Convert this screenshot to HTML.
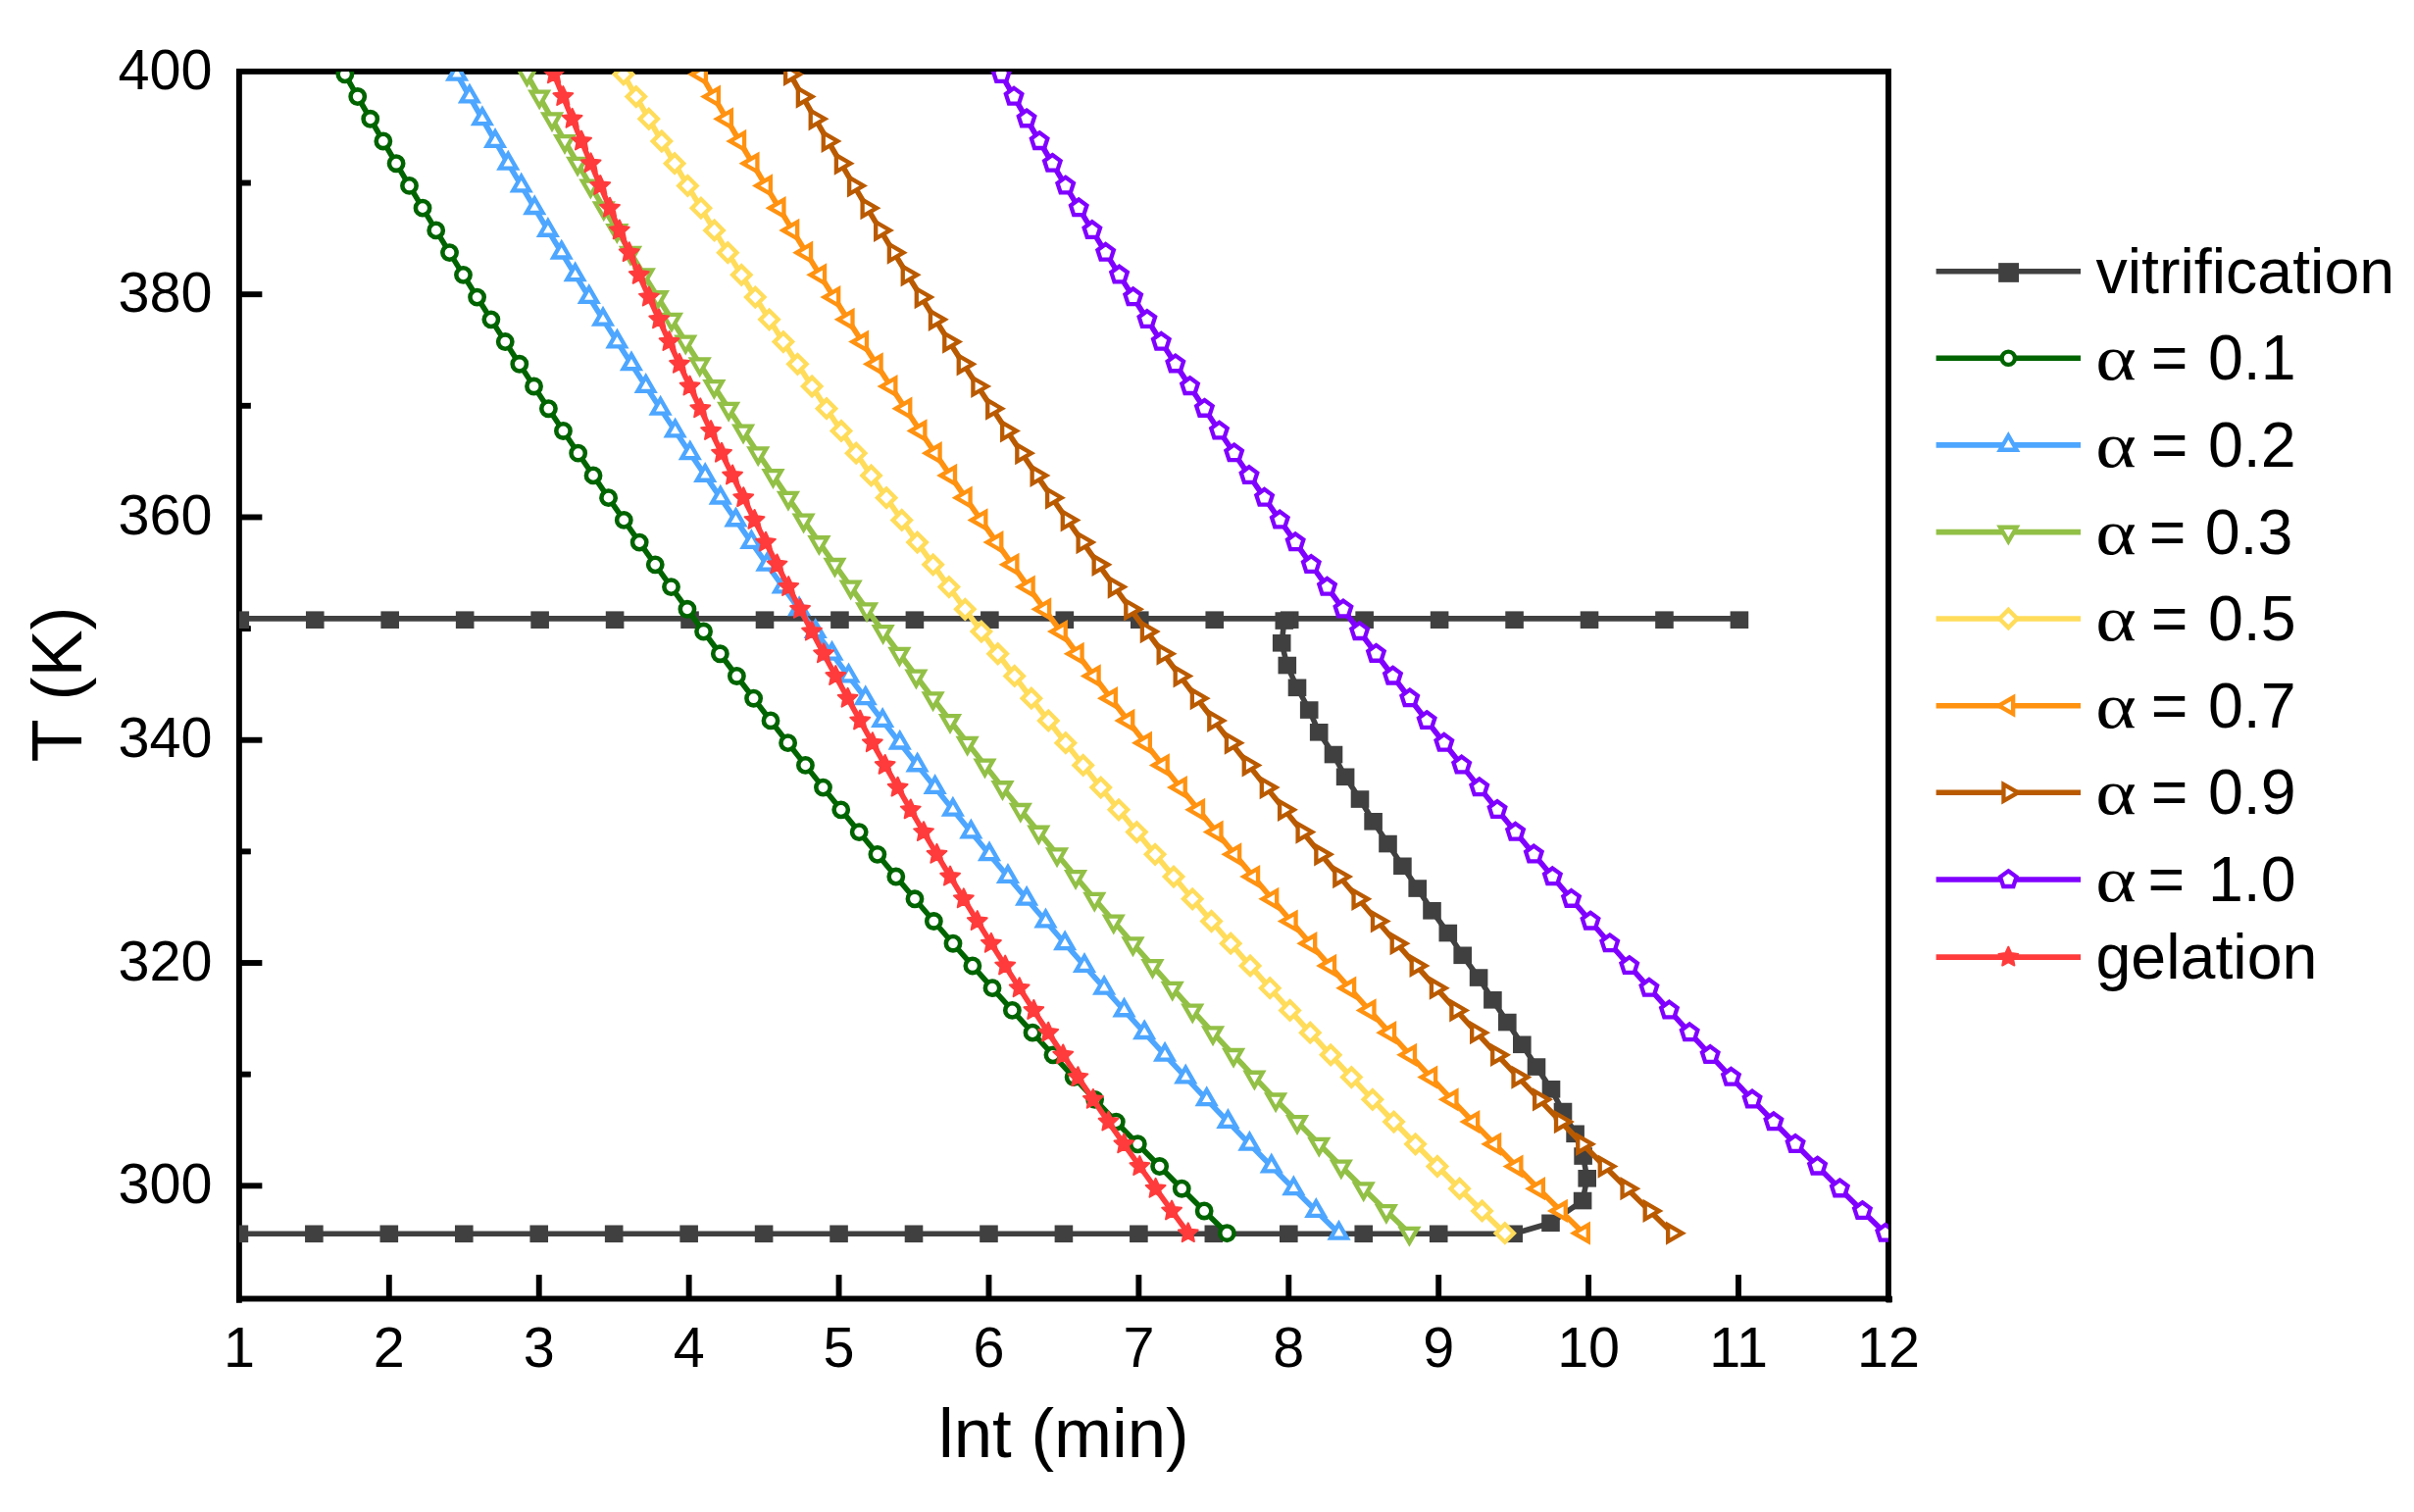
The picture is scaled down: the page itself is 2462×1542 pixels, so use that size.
<!DOCTYPE html>
<html lang="en">
<head>
<meta charset="utf-8">
<title>TTT diagram</title>
<style>html,body{margin:0;padding:0;background:#fff}svg{display:block}</style>
</head>
<body>
<svg width="2462" height="1542" viewBox="0 0 2462 1542">
<rect width="2462" height="1542" fill="#fff"/>
<defs><clipPath id="plot"><rect x="243.90" y="72.90" width="1682.05" height="1251.60"/></clipPath></defs>
<g stroke="#000" stroke-width="5.90" fill="none" stroke-linecap="butt">
<rect x="243.90" y="72.90" width="1682.05" height="1251.60" stroke-linejoin="miter"/>
<line x1="245.85" y1="1209.30" x2="267.35" y2="1209.30"/>
<line x1="245.85" y1="1095.66" x2="255.85" y2="1095.66"/>
<line x1="245.85" y1="982.02" x2="267.35" y2="982.02"/>
<line x1="245.85" y1="868.38" x2="255.85" y2="868.38"/>
<line x1="245.85" y1="754.74" x2="267.35" y2="754.74"/>
<line x1="245.85" y1="641.10" x2="255.85" y2="641.10"/>
<line x1="245.85" y1="527.46" x2="267.35" y2="527.46"/>
<line x1="245.85" y1="413.82" x2="255.85" y2="413.82"/>
<line x1="245.85" y1="300.18" x2="267.35" y2="300.18"/>
<line x1="245.85" y1="186.54" x2="255.85" y2="186.54"/>
<line x1="396.81" y1="1322.55" x2="396.81" y2="1300.05"/>
<line x1="549.73" y1="1322.55" x2="549.73" y2="1300.05"/>
<line x1="702.64" y1="1322.55" x2="702.64" y2="1300.05"/>
<line x1="855.55" y1="1322.55" x2="855.55" y2="1300.05"/>
<line x1="1008.47" y1="1322.55" x2="1008.47" y2="1300.05"/>
<line x1="1161.38" y1="1322.55" x2="1161.38" y2="1300.05"/>
<line x1="1314.30" y1="1322.55" x2="1314.30" y2="1300.05"/>
<line x1="1467.21" y1="1322.55" x2="1467.21" y2="1300.05"/>
<line x1="1620.12" y1="1322.55" x2="1620.12" y2="1300.05"/>
<line x1="1773.04" y1="1322.55" x2="1773.04" y2="1300.05"/>
</g>
<rect x="1923.2" y="1321.6" width="6.8" height="6.9" rx="1.2" fill="#000"/>
<rect x="241.0" y="1321.6" width="5.8" height="7.2" fill="#000"/>
<g clip-path="url(#plot)">
<polyline points="1773.04,630.90 1696.58,630.90 1620.12,630.90 1543.67,630.90 1467.21,630.90 1390.75,630.90 1314.30,630.90 1237.84,630.90 1161.38,630.90 1084.92,630.90 1008.47,630.90 932.01,630.90 855.55,630.90 779.10,630.90 702.64,630.90 626.18,630.90 549.73,630.90 473.27,630.90 396.81,630.90 320.36,630.90 243.90,630.90" fill="none" stroke="#404040" stroke-width="5.60" stroke-linejoin="round"/>
<rect x="1764.64" y="623.40" width="18.60" height="17.60" fill="#404040"/><rect x="1688.18" y="623.40" width="18.60" height="17.60" fill="#404040"/><rect x="1611.72" y="623.40" width="18.60" height="17.60" fill="#404040"/><rect x="1535.27" y="623.40" width="18.60" height="17.60" fill="#404040"/><rect x="1458.81" y="623.40" width="18.60" height="17.60" fill="#404040"/><rect x="1382.35" y="623.40" width="18.60" height="17.60" fill="#404040"/><rect x="1305.90" y="623.40" width="18.60" height="17.60" fill="#404040"/><rect x="1229.44" y="623.40" width="18.60" height="17.60" fill="#404040"/><rect x="1152.98" y="623.40" width="18.60" height="17.60" fill="#404040"/><rect x="1076.53" y="623.40" width="18.60" height="17.60" fill="#404040"/><rect x="1000.07" y="623.40" width="18.60" height="17.60" fill="#404040"/><rect x="923.61" y="623.40" width="18.60" height="17.60" fill="#404040"/><rect x="847.15" y="623.40" width="18.60" height="17.60" fill="#404040"/><rect x="770.70" y="623.40" width="18.60" height="17.60" fill="#404040"/><rect x="694.24" y="623.40" width="18.60" height="17.60" fill="#404040"/><rect x="617.78" y="623.40" width="18.60" height="17.60" fill="#404040"/><rect x="541.33" y="623.40" width="18.60" height="17.60" fill="#404040"/><rect x="464.87" y="623.40" width="18.60" height="17.60" fill="#404040"/><rect x="388.41" y="623.40" width="18.60" height="17.60" fill="#404040"/><rect x="311.96" y="623.40" width="18.60" height="17.60" fill="#404040"/><rect x="235.50" y="623.40" width="18.60" height="17.60" fill="#404040"/>
<polyline points="243.90,1258.30 320.36,1258.30 396.81,1258.30 473.27,1258.30 549.73,1258.30 626.18,1258.30 702.64,1258.30 779.10,1258.30 855.55,1258.30 932.01,1258.30 1008.47,1258.30 1084.92,1258.30 1161.38,1258.30 1237.84,1258.30 1314.30,1258.30 1390.75,1258.30 1467.21,1258.30 1543.67,1258.30 1581.50,1247.30 1614.10,1224.55 1618.70,1201.80 1614.60,1179.05 1606.60,1156.30 1594.00,1133.55 1582.00,1110.80 1567.00,1088.05 1552.30,1065.30 1537.30,1042.55 1522.40,1019.80 1508.10,997.05 1491.70,974.30 1476.80,951.55 1460.50,928.80 1445.70,906.05 1430.40,883.30 1415.50,860.55 1400.60,837.80 1387.00,815.05 1372.10,792.30 1360.00,769.55 1345.20,746.80 1335.20,724.05 1323.00,701.30 1312.80,678.55 1307.20,655.80 1309.80,633.05 1314.30,630.90" fill="none" stroke="#404040" stroke-width="5.60" stroke-linejoin="round"/>
<rect x="234.60" y="1249.50" width="18.60" height="17.60" fill="#404040"/><rect x="311.06" y="1249.50" width="18.60" height="17.60" fill="#404040"/><rect x="387.51" y="1249.50" width="18.60" height="17.60" fill="#404040"/><rect x="463.97" y="1249.50" width="18.60" height="17.60" fill="#404040"/><rect x="540.43" y="1249.50" width="18.60" height="17.60" fill="#404040"/><rect x="616.88" y="1249.50" width="18.60" height="17.60" fill="#404040"/><rect x="693.34" y="1249.50" width="18.60" height="17.60" fill="#404040"/><rect x="769.80" y="1249.50" width="18.60" height="17.60" fill="#404040"/><rect x="846.25" y="1249.50" width="18.60" height="17.60" fill="#404040"/><rect x="922.71" y="1249.50" width="18.60" height="17.60" fill="#404040"/><rect x="999.17" y="1249.50" width="18.60" height="17.60" fill="#404040"/><rect x="1075.62" y="1249.50" width="18.60" height="17.60" fill="#404040"/><rect x="1152.08" y="1249.50" width="18.60" height="17.60" fill="#404040"/><rect x="1228.54" y="1249.50" width="18.60" height="17.60" fill="#404040"/><rect x="1305.00" y="1249.50" width="18.60" height="17.60" fill="#404040"/><rect x="1381.45" y="1249.50" width="18.60" height="17.60" fill="#404040"/><rect x="1457.91" y="1249.50" width="18.60" height="17.60" fill="#404040"/><rect x="1534.37" y="1249.50" width="18.60" height="17.60" fill="#404040"/><rect x="1572.20" y="1238.50" width="18.60" height="17.60" fill="#404040"/><rect x="1604.80" y="1215.75" width="18.60" height="17.60" fill="#404040"/><rect x="1609.40" y="1193.00" width="18.60" height="17.60" fill="#404040"/><rect x="1605.30" y="1170.25" width="18.60" height="17.60" fill="#404040"/><rect x="1597.30" y="1147.50" width="18.60" height="17.60" fill="#404040"/><rect x="1584.70" y="1124.75" width="18.60" height="17.60" fill="#404040"/><rect x="1572.70" y="1102.00" width="18.60" height="17.60" fill="#404040"/><rect x="1557.70" y="1079.25" width="18.60" height="17.60" fill="#404040"/><rect x="1543.00" y="1056.50" width="18.60" height="17.60" fill="#404040"/><rect x="1528.00" y="1033.75" width="18.60" height="17.60" fill="#404040"/><rect x="1513.10" y="1011.00" width="18.60" height="17.60" fill="#404040"/><rect x="1498.80" y="988.25" width="18.60" height="17.60" fill="#404040"/><rect x="1482.40" y="965.50" width="18.60" height="17.60" fill="#404040"/><rect x="1467.50" y="942.75" width="18.60" height="17.60" fill="#404040"/><rect x="1451.20" y="920.00" width="18.60" height="17.60" fill="#404040"/><rect x="1436.40" y="897.25" width="18.60" height="17.60" fill="#404040"/><rect x="1421.10" y="874.50" width="18.60" height="17.60" fill="#404040"/><rect x="1406.20" y="851.75" width="18.60" height="17.60" fill="#404040"/><rect x="1391.30" y="829.00" width="18.60" height="17.60" fill="#404040"/><rect x="1377.70" y="806.25" width="18.60" height="17.60" fill="#404040"/><rect x="1362.80" y="783.50" width="18.60" height="17.60" fill="#404040"/><rect x="1350.70" y="760.75" width="18.60" height="17.60" fill="#404040"/><rect x="1335.90" y="738.00" width="18.60" height="17.60" fill="#404040"/><rect x="1325.90" y="715.25" width="18.60" height="17.60" fill="#404040"/><rect x="1313.70" y="692.50" width="18.60" height="17.60" fill="#404040"/><rect x="1303.50" y="669.75" width="18.60" height="17.60" fill="#404040"/><rect x="1297.90" y="647.00" width="18.60" height="17.60" fill="#404040"/><rect x="1300.50" y="624.25" width="18.60" height="17.60" fill="#404040"/>
<polyline points="351.86,75.80 364.73,98.53 377.72,121.26 390.84,143.99 404.10,166.72 417.50,189.44 431.03,212.17 444.70,234.90 458.52,257.63 472.48,280.36 486.58,303.09 500.84,325.82 515.25,348.55 529.81,371.28 544.53,394.00 559.41,416.73 574.45,439.46 589.66,462.19 605.03,484.92 620.57,507.65 636.29,530.38 652.18,553.11 668.25,575.83 684.50,598.56 700.93,621.29 717.56,644.02 734.37,666.75 751.38,689.48 768.59,712.21 786.00,734.94 803.61,757.67 821.44,780.39 839.47,803.12 857.72,825.85 876.19,848.58 894.89,871.31 913.81,894.04 932.97,916.77 952.36,939.50 972.00,962.23 991.87,984.95 1012.00,1007.68 1032.39,1030.41 1053.03,1053.14 1073.94,1075.87 1095.12,1098.60 1116.58,1121.33 1138.31,1144.06 1160.33,1166.78 1182.65,1189.51 1205.26,1212.24 1228.17,1234.97 1251.40,1257.70" fill="none" stroke="#006400" stroke-width="5.60" stroke-linejoin="round"/>
<circle cx="351.86" cy="75.80" r="7.15" fill="#fff" stroke="#006400" stroke-width="4.56"/><circle cx="364.73" cy="98.53" r="7.15" fill="#fff" stroke="#006400" stroke-width="4.56"/><circle cx="377.72" cy="121.26" r="7.15" fill="#fff" stroke="#006400" stroke-width="4.56"/><circle cx="390.84" cy="143.99" r="7.15" fill="#fff" stroke="#006400" stroke-width="4.56"/><circle cx="404.10" cy="166.72" r="7.15" fill="#fff" stroke="#006400" stroke-width="4.56"/><circle cx="417.50" cy="189.44" r="7.15" fill="#fff" stroke="#006400" stroke-width="4.56"/><circle cx="431.03" cy="212.17" r="7.15" fill="#fff" stroke="#006400" stroke-width="4.56"/><circle cx="444.70" cy="234.90" r="7.15" fill="#fff" stroke="#006400" stroke-width="4.56"/><circle cx="458.52" cy="257.63" r="7.15" fill="#fff" stroke="#006400" stroke-width="4.56"/><circle cx="472.48" cy="280.36" r="7.15" fill="#fff" stroke="#006400" stroke-width="4.56"/><circle cx="486.58" cy="303.09" r="7.15" fill="#fff" stroke="#006400" stroke-width="4.56"/><circle cx="500.84" cy="325.82" r="7.15" fill="#fff" stroke="#006400" stroke-width="4.56"/><circle cx="515.25" cy="348.55" r="7.15" fill="#fff" stroke="#006400" stroke-width="4.56"/><circle cx="529.81" cy="371.28" r="7.15" fill="#fff" stroke="#006400" stroke-width="4.56"/><circle cx="544.53" cy="394.00" r="7.15" fill="#fff" stroke="#006400" stroke-width="4.56"/><circle cx="559.41" cy="416.73" r="7.15" fill="#fff" stroke="#006400" stroke-width="4.56"/><circle cx="574.45" cy="439.46" r="7.15" fill="#fff" stroke="#006400" stroke-width="4.56"/><circle cx="589.66" cy="462.19" r="7.15" fill="#fff" stroke="#006400" stroke-width="4.56"/><circle cx="605.03" cy="484.92" r="7.15" fill="#fff" stroke="#006400" stroke-width="4.56"/><circle cx="620.57" cy="507.65" r="7.15" fill="#fff" stroke="#006400" stroke-width="4.56"/><circle cx="636.29" cy="530.38" r="7.15" fill="#fff" stroke="#006400" stroke-width="4.56"/><circle cx="652.18" cy="553.11" r="7.15" fill="#fff" stroke="#006400" stroke-width="4.56"/><circle cx="668.25" cy="575.83" r="7.15" fill="#fff" stroke="#006400" stroke-width="4.56"/><circle cx="684.50" cy="598.56" r="7.15" fill="#fff" stroke="#006400" stroke-width="4.56"/><circle cx="700.93" cy="621.29" r="7.15" fill="#fff" stroke="#006400" stroke-width="4.56"/><circle cx="717.56" cy="644.02" r="7.15" fill="#fff" stroke="#006400" stroke-width="4.56"/><circle cx="734.37" cy="666.75" r="7.15" fill="#fff" stroke="#006400" stroke-width="4.56"/><circle cx="751.38" cy="689.48" r="7.15" fill="#fff" stroke="#006400" stroke-width="4.56"/><circle cx="768.59" cy="712.21" r="7.15" fill="#fff" stroke="#006400" stroke-width="4.56"/><circle cx="786.00" cy="734.94" r="7.15" fill="#fff" stroke="#006400" stroke-width="4.56"/><circle cx="803.61" cy="757.67" r="7.15" fill="#fff" stroke="#006400" stroke-width="4.56"/><circle cx="821.44" cy="780.39" r="7.15" fill="#fff" stroke="#006400" stroke-width="4.56"/><circle cx="839.47" cy="803.12" r="7.15" fill="#fff" stroke="#006400" stroke-width="4.56"/><circle cx="857.72" cy="825.85" r="7.15" fill="#fff" stroke="#006400" stroke-width="4.56"/><circle cx="876.19" cy="848.58" r="7.15" fill="#fff" stroke="#006400" stroke-width="4.56"/><circle cx="894.89" cy="871.31" r="7.15" fill="#fff" stroke="#006400" stroke-width="4.56"/><circle cx="913.81" cy="894.04" r="7.15" fill="#fff" stroke="#006400" stroke-width="4.56"/><circle cx="932.97" cy="916.77" r="7.15" fill="#fff" stroke="#006400" stroke-width="4.56"/><circle cx="952.36" cy="939.50" r="7.15" fill="#fff" stroke="#006400" stroke-width="4.56"/><circle cx="972.00" cy="962.23" r="7.15" fill="#fff" stroke="#006400" stroke-width="4.56"/><circle cx="991.87" cy="984.95" r="7.15" fill="#fff" stroke="#006400" stroke-width="4.56"/><circle cx="1012.00" cy="1007.68" r="7.15" fill="#fff" stroke="#006400" stroke-width="4.56"/><circle cx="1032.39" cy="1030.41" r="7.15" fill="#fff" stroke="#006400" stroke-width="4.56"/><circle cx="1053.03" cy="1053.14" r="7.15" fill="#fff" stroke="#006400" stroke-width="4.56"/><circle cx="1073.94" cy="1075.87" r="7.15" fill="#fff" stroke="#006400" stroke-width="4.56"/><circle cx="1095.12" cy="1098.60" r="7.15" fill="#fff" stroke="#006400" stroke-width="4.56"/><circle cx="1116.58" cy="1121.33" r="7.15" fill="#fff" stroke="#006400" stroke-width="4.56"/><circle cx="1138.31" cy="1144.06" r="7.15" fill="#fff" stroke="#006400" stroke-width="4.56"/><circle cx="1160.33" cy="1166.78" r="7.15" fill="#fff" stroke="#006400" stroke-width="4.56"/><circle cx="1182.65" cy="1189.51" r="7.15" fill="#fff" stroke="#006400" stroke-width="4.56"/><circle cx="1205.26" cy="1212.24" r="7.15" fill="#fff" stroke="#006400" stroke-width="4.56"/><circle cx="1228.17" cy="1234.97" r="7.15" fill="#fff" stroke="#006400" stroke-width="4.56"/><circle cx="1251.40" cy="1257.70" r="7.15" fill="#fff" stroke="#006400" stroke-width="4.56"/>
<polyline points="466.06,75.80 478.92,98.53 491.91,121.26 505.04,143.99 518.29,166.72 531.69,189.44 545.22,212.17 558.89,234.90 572.70,257.63 586.66,280.36 600.77,303.09 615.02,325.82 629.43,348.55 643.99,371.28 658.71,394.00 673.59,416.73 688.63,439.46 703.83,462.19 719.20,484.92 734.74,507.65 750.45,530.38 766.34,553.11 782.41,575.83 798.66,598.56 815.09,621.29 831.72,644.02 848.53,666.75 865.54,689.48 882.74,712.21 900.15,734.94 917.76,757.67 935.58,780.39 953.62,803.12 971.87,825.85 990.34,848.58 1009.03,871.31 1027.95,894.04 1047.10,916.77 1066.49,939.50 1086.13,962.23 1106.00,984.95 1126.13,1007.68 1146.51,1030.41 1167.16,1053.14 1188.06,1075.87 1209.24,1098.60 1230.69,1121.33 1252.43,1144.06 1274.44,1166.78 1296.76,1189.51 1319.36,1212.24 1342.28,1234.97 1365.50,1257.70" fill="none" stroke="#4DA6FF" stroke-width="5.60" stroke-linejoin="round"/>
<polygon points="466.06,66.10 474.46,80.65 457.66,80.65" fill="#fff" stroke="#4DA6FF" stroke-width="4.30" stroke-linejoin="miter"/><polygon points="478.92,88.83 487.32,103.38 470.52,103.38" fill="#fff" stroke="#4DA6FF" stroke-width="4.30" stroke-linejoin="miter"/><polygon points="491.91,111.56 500.32,126.11 483.51,126.11" fill="#fff" stroke="#4DA6FF" stroke-width="4.30" stroke-linejoin="miter"/><polygon points="505.04,134.29 513.44,148.84 496.64,148.84" fill="#fff" stroke="#4DA6FF" stroke-width="4.30" stroke-linejoin="miter"/><polygon points="518.29,157.02 526.70,171.57 509.89,171.57" fill="#fff" stroke="#4DA6FF" stroke-width="4.30" stroke-linejoin="miter"/><polygon points="531.69,179.74 540.09,194.29 523.29,194.29" fill="#fff" stroke="#4DA6FF" stroke-width="4.30" stroke-linejoin="miter"/><polygon points="545.22,202.47 553.62,217.02 536.82,217.02" fill="#fff" stroke="#4DA6FF" stroke-width="4.30" stroke-linejoin="miter"/><polygon points="558.89,225.20 567.29,239.75 550.49,239.75" fill="#fff" stroke="#4DA6FF" stroke-width="4.30" stroke-linejoin="miter"/><polygon points="572.70,247.93 581.11,262.48 564.30,262.48" fill="#fff" stroke="#4DA6FF" stroke-width="4.30" stroke-linejoin="miter"/><polygon points="586.66,270.66 595.06,285.21 578.26,285.21" fill="#fff" stroke="#4DA6FF" stroke-width="4.30" stroke-linejoin="miter"/><polygon points="600.77,293.39 609.17,307.94 592.37,307.94" fill="#fff" stroke="#4DA6FF" stroke-width="4.30" stroke-linejoin="miter"/><polygon points="615.02,316.12 623.42,330.67 606.62,330.67" fill="#fff" stroke="#4DA6FF" stroke-width="4.30" stroke-linejoin="miter"/><polygon points="629.43,338.85 637.83,353.40 621.03,353.40" fill="#fff" stroke="#4DA6FF" stroke-width="4.30" stroke-linejoin="miter"/><polygon points="643.99,361.58 652.39,376.13 635.59,376.13" fill="#fff" stroke="#4DA6FF" stroke-width="4.30" stroke-linejoin="miter"/><polygon points="658.71,384.30 667.11,398.85 650.31,398.85" fill="#fff" stroke="#4DA6FF" stroke-width="4.30" stroke-linejoin="miter"/><polygon points="673.59,407.03 681.99,421.58 665.19,421.58" fill="#fff" stroke="#4DA6FF" stroke-width="4.30" stroke-linejoin="miter"/><polygon points="688.63,429.76 697.03,444.31 680.23,444.31" fill="#fff" stroke="#4DA6FF" stroke-width="4.30" stroke-linejoin="miter"/><polygon points="703.83,452.49 712.23,467.04 695.43,467.04" fill="#fff" stroke="#4DA6FF" stroke-width="4.30" stroke-linejoin="miter"/><polygon points="719.20,475.22 727.60,489.77 710.80,489.77" fill="#fff" stroke="#4DA6FF" stroke-width="4.30" stroke-linejoin="miter"/><polygon points="734.74,497.95 743.14,512.50 726.34,512.50" fill="#fff" stroke="#4DA6FF" stroke-width="4.30" stroke-linejoin="miter"/><polygon points="750.45,520.68 758.85,535.23 742.05,535.23" fill="#fff" stroke="#4DA6FF" stroke-width="4.30" stroke-linejoin="miter"/><polygon points="766.34,543.41 774.74,557.96 757.94,557.96" fill="#fff" stroke="#4DA6FF" stroke-width="4.30" stroke-linejoin="miter"/><polygon points="782.41,566.13 790.81,580.68 774.01,580.68" fill="#fff" stroke="#4DA6FF" stroke-width="4.30" stroke-linejoin="miter"/><polygon points="798.66,588.86 807.06,603.41 790.26,603.41" fill="#fff" stroke="#4DA6FF" stroke-width="4.30" stroke-linejoin="miter"/><polygon points="815.09,611.59 823.49,626.14 806.69,626.14" fill="#fff" stroke="#4DA6FF" stroke-width="4.30" stroke-linejoin="miter"/><polygon points="831.72,634.32 840.12,648.87 823.32,648.87" fill="#fff" stroke="#4DA6FF" stroke-width="4.30" stroke-linejoin="miter"/><polygon points="848.53,657.05 856.93,671.60 840.13,671.60" fill="#fff" stroke="#4DA6FF" stroke-width="4.30" stroke-linejoin="miter"/><polygon points="865.54,679.78 873.94,694.33 857.14,694.33" fill="#fff" stroke="#4DA6FF" stroke-width="4.30" stroke-linejoin="miter"/><polygon points="882.74,702.51 891.14,717.06 874.34,717.06" fill="#fff" stroke="#4DA6FF" stroke-width="4.30" stroke-linejoin="miter"/><polygon points="900.15,725.24 908.55,739.79 891.75,739.79" fill="#fff" stroke="#4DA6FF" stroke-width="4.30" stroke-linejoin="miter"/><polygon points="917.76,747.97 926.16,762.52 909.36,762.52" fill="#fff" stroke="#4DA6FF" stroke-width="4.30" stroke-linejoin="miter"/><polygon points="935.58,770.69 943.98,785.24 927.18,785.24" fill="#fff" stroke="#4DA6FF" stroke-width="4.30" stroke-linejoin="miter"/><polygon points="953.62,793.42 962.02,807.97 945.22,807.97" fill="#fff" stroke="#4DA6FF" stroke-width="4.30" stroke-linejoin="miter"/><polygon points="971.87,816.15 980.27,830.70 963.47,830.70" fill="#fff" stroke="#4DA6FF" stroke-width="4.30" stroke-linejoin="miter"/><polygon points="990.34,838.88 998.74,853.43 981.93,853.43" fill="#fff" stroke="#4DA6FF" stroke-width="4.30" stroke-linejoin="miter"/><polygon points="1009.03,861.61 1017.43,876.16 1000.63,876.16" fill="#fff" stroke="#4DA6FF" stroke-width="4.30" stroke-linejoin="miter"/><polygon points="1027.95,884.34 1036.35,898.89 1019.55,898.89" fill="#fff" stroke="#4DA6FF" stroke-width="4.30" stroke-linejoin="miter"/><polygon points="1047.10,907.07 1055.50,921.62 1038.70,921.62" fill="#fff" stroke="#4DA6FF" stroke-width="4.30" stroke-linejoin="miter"/><polygon points="1066.49,929.80 1074.89,944.35 1058.09,944.35" fill="#fff" stroke="#4DA6FF" stroke-width="4.30" stroke-linejoin="miter"/><polygon points="1086.13,952.52 1094.53,967.08 1077.73,967.08" fill="#fff" stroke="#4DA6FF" stroke-width="4.30" stroke-linejoin="miter"/><polygon points="1106.00,975.25 1114.40,989.80 1097.60,989.80" fill="#fff" stroke="#4DA6FF" stroke-width="4.30" stroke-linejoin="miter"/><polygon points="1126.13,997.98 1134.53,1012.53 1117.73,1012.53" fill="#fff" stroke="#4DA6FF" stroke-width="4.30" stroke-linejoin="miter"/><polygon points="1146.51,1020.71 1154.91,1035.26 1138.11,1035.26" fill="#fff" stroke="#4DA6FF" stroke-width="4.30" stroke-linejoin="miter"/><polygon points="1167.16,1043.44 1175.56,1057.99 1158.75,1057.99" fill="#fff" stroke="#4DA6FF" stroke-width="4.30" stroke-linejoin="miter"/><polygon points="1188.06,1066.17 1196.46,1080.72 1179.66,1080.72" fill="#fff" stroke="#4DA6FF" stroke-width="4.30" stroke-linejoin="miter"/><polygon points="1209.24,1088.90 1217.64,1103.45 1200.84,1103.45" fill="#fff" stroke="#4DA6FF" stroke-width="4.30" stroke-linejoin="miter"/><polygon points="1230.69,1111.63 1239.09,1126.18 1222.29,1126.18" fill="#fff" stroke="#4DA6FF" stroke-width="4.30" stroke-linejoin="miter"/><polygon points="1252.43,1134.36 1260.83,1148.91 1244.02,1148.91" fill="#fff" stroke="#4DA6FF" stroke-width="4.30" stroke-linejoin="miter"/><polygon points="1274.44,1157.08 1282.84,1171.63 1266.04,1171.63" fill="#fff" stroke="#4DA6FF" stroke-width="4.30" stroke-linejoin="miter"/><polygon points="1296.76,1179.81 1305.16,1194.36 1288.36,1194.36" fill="#fff" stroke="#4DA6FF" stroke-width="4.30" stroke-linejoin="miter"/><polygon points="1319.36,1202.54 1327.77,1217.09 1310.96,1217.09" fill="#fff" stroke="#4DA6FF" stroke-width="4.30" stroke-linejoin="miter"/><polygon points="1342.28,1225.27 1350.68,1239.82 1333.88,1239.82" fill="#fff" stroke="#4DA6FF" stroke-width="4.30" stroke-linejoin="miter"/><polygon points="1365.50,1248.00 1373.90,1262.55 1357.10,1262.55" fill="#fff" stroke="#4DA6FF" stroke-width="4.30" stroke-linejoin="miter"/>
<polyline points="537.45,75.80 550.16,98.53 563.00,121.26 575.98,143.99 589.10,166.72 602.35,189.44 615.75,212.17 629.29,234.90 642.98,257.63 656.82,280.36 670.81,303.09 684.95,325.82 699.25,348.55 713.71,371.28 728.32,394.00 743.11,416.73 758.06,439.46 773.18,462.19 788.47,484.92 803.94,507.65 819.59,530.38 835.42,553.11 851.43,575.83 867.63,598.56 884.03,621.29 900.62,644.02 917.40,666.75 934.39,689.48 951.59,712.21 969.00,734.94 986.61,757.67 1004.45,780.39 1022.51,803.12 1040.79,825.85 1059.31,848.58 1078.05,871.31 1097.04,894.04 1116.27,916.77 1135.74,939.50 1155.47,962.23 1175.46,984.95 1195.71,1007.68 1216.23,1030.41 1237.02,1053.14 1258.09,1075.87 1279.45,1098.60 1301.09,1121.33 1323.03,1144.06 1345.28,1166.78 1367.83,1189.51 1390.69,1212.24 1413.88,1234.97 1437.40,1257.70" fill="none" stroke="#92C046" stroke-width="5.60" stroke-linejoin="round"/>
<polygon points="537.45,85.50 529.05,70.95 545.85,70.95" fill="#fff" stroke="#92C046" stroke-width="4.30" stroke-linejoin="miter"/><polygon points="550.16,108.23 541.76,93.68 558.56,93.68" fill="#fff" stroke="#92C046" stroke-width="4.30" stroke-linejoin="miter"/><polygon points="563.00,130.96 554.60,116.41 571.40,116.41" fill="#fff" stroke="#92C046" stroke-width="4.30" stroke-linejoin="miter"/><polygon points="575.98,153.69 567.58,139.14 584.38,139.14" fill="#fff" stroke="#92C046" stroke-width="4.30" stroke-linejoin="miter"/><polygon points="589.10,176.42 580.70,161.87 597.50,161.87" fill="#fff" stroke="#92C046" stroke-width="4.30" stroke-linejoin="miter"/><polygon points="602.35,199.14 593.95,184.59 610.75,184.59" fill="#fff" stroke="#92C046" stroke-width="4.30" stroke-linejoin="miter"/><polygon points="615.75,221.87 607.35,207.32 624.15,207.32" fill="#fff" stroke="#92C046" stroke-width="4.30" stroke-linejoin="miter"/><polygon points="629.29,244.60 620.89,230.05 637.69,230.05" fill="#fff" stroke="#92C046" stroke-width="4.30" stroke-linejoin="miter"/><polygon points="642.98,267.33 634.58,252.78 651.38,252.78" fill="#fff" stroke="#92C046" stroke-width="4.30" stroke-linejoin="miter"/><polygon points="656.82,290.06 648.42,275.51 665.22,275.51" fill="#fff" stroke="#92C046" stroke-width="4.30" stroke-linejoin="miter"/><polygon points="670.81,312.79 662.41,298.24 679.21,298.24" fill="#fff" stroke="#92C046" stroke-width="4.30" stroke-linejoin="miter"/><polygon points="684.95,335.52 676.55,320.97 693.35,320.97" fill="#fff" stroke="#92C046" stroke-width="4.30" stroke-linejoin="miter"/><polygon points="699.25,358.25 690.85,343.70 707.65,343.70" fill="#fff" stroke="#92C046" stroke-width="4.30" stroke-linejoin="miter"/><polygon points="713.71,380.98 705.31,366.43 722.11,366.43" fill="#fff" stroke="#92C046" stroke-width="4.30" stroke-linejoin="miter"/><polygon points="728.32,403.70 719.92,389.15 736.73,389.15" fill="#fff" stroke="#92C046" stroke-width="4.30" stroke-linejoin="miter"/><polygon points="743.11,426.43 734.71,411.88 751.51,411.88" fill="#fff" stroke="#92C046" stroke-width="4.30" stroke-linejoin="miter"/><polygon points="758.06,449.16 749.66,434.61 766.46,434.61" fill="#fff" stroke="#92C046" stroke-width="4.30" stroke-linejoin="miter"/><polygon points="773.18,471.89 764.78,457.34 781.58,457.34" fill="#fff" stroke="#92C046" stroke-width="4.30" stroke-linejoin="miter"/><polygon points="788.47,494.62 780.07,480.07 796.87,480.07" fill="#fff" stroke="#92C046" stroke-width="4.30" stroke-linejoin="miter"/><polygon points="803.94,517.35 795.54,502.80 812.34,502.80" fill="#fff" stroke="#92C046" stroke-width="4.30" stroke-linejoin="miter"/><polygon points="819.59,540.08 811.19,525.53 827.99,525.53" fill="#fff" stroke="#92C046" stroke-width="4.30" stroke-linejoin="miter"/><polygon points="835.42,562.81 827.02,548.26 843.82,548.26" fill="#fff" stroke="#92C046" stroke-width="4.30" stroke-linejoin="miter"/><polygon points="851.43,585.53 843.03,570.98 859.83,570.98" fill="#fff" stroke="#92C046" stroke-width="4.30" stroke-linejoin="miter"/><polygon points="867.63,608.26 859.23,593.71 876.03,593.71" fill="#fff" stroke="#92C046" stroke-width="4.30" stroke-linejoin="miter"/><polygon points="884.03,630.99 875.63,616.44 892.43,616.44" fill="#fff" stroke="#92C046" stroke-width="4.30" stroke-linejoin="miter"/><polygon points="900.62,653.72 892.22,639.17 909.02,639.17" fill="#fff" stroke="#92C046" stroke-width="4.30" stroke-linejoin="miter"/><polygon points="917.40,676.45 909.00,661.90 925.80,661.90" fill="#fff" stroke="#92C046" stroke-width="4.30" stroke-linejoin="miter"/><polygon points="934.39,699.18 925.99,684.63 942.79,684.63" fill="#fff" stroke="#92C046" stroke-width="4.30" stroke-linejoin="miter"/><polygon points="951.59,721.91 943.19,707.36 959.99,707.36" fill="#fff" stroke="#92C046" stroke-width="4.30" stroke-linejoin="miter"/><polygon points="969.00,744.64 960.60,730.09 977.40,730.09" fill="#fff" stroke="#92C046" stroke-width="4.30" stroke-linejoin="miter"/><polygon points="986.61,767.37 978.21,752.82 995.02,752.82" fill="#fff" stroke="#92C046" stroke-width="4.30" stroke-linejoin="miter"/><polygon points="1004.45,790.09 996.05,775.54 1012.85,775.54" fill="#fff" stroke="#92C046" stroke-width="4.30" stroke-linejoin="miter"/><polygon points="1022.51,812.82 1014.11,798.27 1030.91,798.27" fill="#fff" stroke="#92C046" stroke-width="4.30" stroke-linejoin="miter"/><polygon points="1040.79,835.55 1032.39,821.00 1049.19,821.00" fill="#fff" stroke="#92C046" stroke-width="4.30" stroke-linejoin="miter"/><polygon points="1059.31,858.28 1050.90,843.73 1067.71,843.73" fill="#fff" stroke="#92C046" stroke-width="4.30" stroke-linejoin="miter"/><polygon points="1078.05,881.01 1069.65,866.46 1086.45,866.46" fill="#fff" stroke="#92C046" stroke-width="4.30" stroke-linejoin="miter"/><polygon points="1097.04,903.74 1088.64,889.19 1105.44,889.19" fill="#fff" stroke="#92C046" stroke-width="4.30" stroke-linejoin="miter"/><polygon points="1116.27,926.47 1107.87,911.92 1124.67,911.92" fill="#fff" stroke="#92C046" stroke-width="4.30" stroke-linejoin="miter"/><polygon points="1135.74,949.20 1127.34,934.65 1144.15,934.65" fill="#fff" stroke="#92C046" stroke-width="4.30" stroke-linejoin="miter"/><polygon points="1155.47,971.93 1147.07,957.38 1163.88,957.38" fill="#fff" stroke="#92C046" stroke-width="4.30" stroke-linejoin="miter"/><polygon points="1175.46,994.65 1167.06,980.10 1183.86,980.10" fill="#fff" stroke="#92C046" stroke-width="4.30" stroke-linejoin="miter"/><polygon points="1195.71,1017.38 1187.31,1002.83 1204.11,1002.83" fill="#fff" stroke="#92C046" stroke-width="4.30" stroke-linejoin="miter"/><polygon points="1216.23,1040.11 1207.83,1025.56 1224.63,1025.56" fill="#fff" stroke="#92C046" stroke-width="4.30" stroke-linejoin="miter"/><polygon points="1237.02,1062.84 1228.62,1048.29 1245.42,1048.29" fill="#fff" stroke="#92C046" stroke-width="4.30" stroke-linejoin="miter"/><polygon points="1258.09,1085.57 1249.69,1071.02 1266.49,1071.02" fill="#fff" stroke="#92C046" stroke-width="4.30" stroke-linejoin="miter"/><polygon points="1279.45,1108.30 1271.05,1093.75 1287.85,1093.75" fill="#fff" stroke="#92C046" stroke-width="4.30" stroke-linejoin="miter"/><polygon points="1301.09,1131.03 1292.69,1116.48 1309.49,1116.48" fill="#fff" stroke="#92C046" stroke-width="4.30" stroke-linejoin="miter"/><polygon points="1323.03,1153.76 1314.63,1139.21 1331.43,1139.21" fill="#fff" stroke="#92C046" stroke-width="4.30" stroke-linejoin="miter"/><polygon points="1345.28,1176.48 1336.88,1161.93 1353.68,1161.93" fill="#fff" stroke="#92C046" stroke-width="4.30" stroke-linejoin="miter"/><polygon points="1367.83,1199.21 1359.43,1184.66 1376.23,1184.66" fill="#fff" stroke="#92C046" stroke-width="4.30" stroke-linejoin="miter"/><polygon points="1390.69,1221.94 1382.29,1207.39 1399.10,1207.39" fill="#fff" stroke="#92C046" stroke-width="4.30" stroke-linejoin="miter"/><polygon points="1413.88,1244.67 1405.48,1230.12 1422.28,1230.12" fill="#fff" stroke="#92C046" stroke-width="4.30" stroke-linejoin="miter"/><polygon points="1437.40,1267.40 1429.00,1252.85 1445.80,1252.85" fill="#fff" stroke="#92C046" stroke-width="4.30" stroke-linejoin="miter"/>
<polyline points="635.96,75.80 648.78,98.53 661.74,121.26 674.83,143.99 688.05,166.72 701.41,189.44 714.90,212.17 728.54,234.90 742.32,257.63 756.25,280.36 770.32,303.09 784.55,325.82 798.92,348.55 813.45,371.28 828.14,394.00 842.99,416.73 858.00,439.46 873.18,462.19 888.53,484.92 904.04,507.65 919.73,530.38 935.60,553.11 951.64,575.83 967.87,598.56 984.29,621.29 1000.89,644.02 1017.69,666.75 1034.68,689.48 1051.87,712.21 1069.26,734.94 1086.86,757.67 1104.67,780.39 1122.69,803.12 1140.94,825.85 1159.40,848.58 1178.09,871.31 1197.01,894.04 1216.16,916.77 1235.55,939.50 1255.18,962.23 1275.07,984.95 1295.20,1007.68 1315.59,1030.41 1336.24,1053.14 1357.16,1075.87 1378.36,1098.60 1399.83,1121.33 1421.58,1144.06 1443.62,1166.78 1465.96,1189.51 1488.60,1212.24 1511.54,1234.97 1534.80,1257.70" fill="none" stroke="#FFDC5A" stroke-width="5.60" stroke-linejoin="round"/>
<polygon points="645.06,75.80 635.96,84.90 626.86,75.80 635.96,66.70" fill="#fff" stroke="#FFDC5A" stroke-width="4.30" stroke-linejoin="miter"/><polygon points="657.88,98.53 648.78,107.63 639.68,98.53 648.78,89.43" fill="#fff" stroke="#FFDC5A" stroke-width="4.30" stroke-linejoin="miter"/><polygon points="670.84,121.26 661.74,130.36 652.64,121.26 661.74,112.16" fill="#fff" stroke="#FFDC5A" stroke-width="4.30" stroke-linejoin="miter"/><polygon points="683.93,143.99 674.83,153.09 665.73,143.99 674.83,134.89" fill="#fff" stroke="#FFDC5A" stroke-width="4.30" stroke-linejoin="miter"/><polygon points="697.15,166.72 688.05,175.82 678.95,166.72 688.05,157.62" fill="#fff" stroke="#FFDC5A" stroke-width="4.30" stroke-linejoin="miter"/><polygon points="710.51,189.44 701.41,198.54 692.31,189.44 701.41,180.34" fill="#fff" stroke="#FFDC5A" stroke-width="4.30" stroke-linejoin="miter"/><polygon points="724.00,212.17 714.90,221.27 705.80,212.17 714.90,203.07" fill="#fff" stroke="#FFDC5A" stroke-width="4.30" stroke-linejoin="miter"/><polygon points="737.64,234.90 728.54,244.00 719.44,234.90 728.54,225.80" fill="#fff" stroke="#FFDC5A" stroke-width="4.30" stroke-linejoin="miter"/><polygon points="751.42,257.63 742.32,266.73 733.22,257.63 742.32,248.53" fill="#fff" stroke="#FFDC5A" stroke-width="4.30" stroke-linejoin="miter"/><polygon points="765.35,280.36 756.25,289.46 747.15,280.36 756.25,271.26" fill="#fff" stroke="#FFDC5A" stroke-width="4.30" stroke-linejoin="miter"/><polygon points="779.42,303.09 770.32,312.19 761.22,303.09 770.32,293.99" fill="#fff" stroke="#FFDC5A" stroke-width="4.30" stroke-linejoin="miter"/><polygon points="793.65,325.82 784.55,334.92 775.45,325.82 784.55,316.72" fill="#fff" stroke="#FFDC5A" stroke-width="4.30" stroke-linejoin="miter"/><polygon points="808.02,348.55 798.92,357.65 789.82,348.55 798.92,339.45" fill="#fff" stroke="#FFDC5A" stroke-width="4.30" stroke-linejoin="miter"/><polygon points="822.55,371.28 813.45,380.38 804.35,371.28 813.45,362.18" fill="#fff" stroke="#FFDC5A" stroke-width="4.30" stroke-linejoin="miter"/><polygon points="837.24,394.00 828.14,403.10 819.04,394.00 828.14,384.90" fill="#fff" stroke="#FFDC5A" stroke-width="4.30" stroke-linejoin="miter"/><polygon points="852.09,416.73 842.99,425.83 833.89,416.73 842.99,407.63" fill="#fff" stroke="#FFDC5A" stroke-width="4.30" stroke-linejoin="miter"/><polygon points="867.10,439.46 858.00,448.56 848.90,439.46 858.00,430.36" fill="#fff" stroke="#FFDC5A" stroke-width="4.30" stroke-linejoin="miter"/><polygon points="882.28,462.19 873.18,471.29 864.08,462.19 873.18,453.09" fill="#fff" stroke="#FFDC5A" stroke-width="4.30" stroke-linejoin="miter"/><polygon points="897.63,484.92 888.53,494.02 879.43,484.92 888.53,475.82" fill="#fff" stroke="#FFDC5A" stroke-width="4.30" stroke-linejoin="miter"/><polygon points="913.14,507.65 904.04,516.75 894.94,507.65 904.04,498.55" fill="#fff" stroke="#FFDC5A" stroke-width="4.30" stroke-linejoin="miter"/><polygon points="928.83,530.38 919.73,539.48 910.63,530.38 919.73,521.28" fill="#fff" stroke="#FFDC5A" stroke-width="4.30" stroke-linejoin="miter"/><polygon points="944.70,553.11 935.60,562.21 926.50,553.11 935.60,544.01" fill="#fff" stroke="#FFDC5A" stroke-width="4.30" stroke-linejoin="miter"/><polygon points="960.74,575.83 951.64,584.93 942.54,575.83 951.64,566.73" fill="#fff" stroke="#FFDC5A" stroke-width="4.30" stroke-linejoin="miter"/><polygon points="976.97,598.56 967.87,607.66 958.77,598.56 967.87,589.46" fill="#fff" stroke="#FFDC5A" stroke-width="4.30" stroke-linejoin="miter"/><polygon points="993.39,621.29 984.29,630.39 975.19,621.29 984.29,612.19" fill="#fff" stroke="#FFDC5A" stroke-width="4.30" stroke-linejoin="miter"/><polygon points="1009.99,644.02 1000.89,653.12 991.79,644.02 1000.89,634.92" fill="#fff" stroke="#FFDC5A" stroke-width="4.30" stroke-linejoin="miter"/><polygon points="1026.79,666.75 1017.69,675.85 1008.59,666.75 1017.69,657.65" fill="#fff" stroke="#FFDC5A" stroke-width="4.30" stroke-linejoin="miter"/><polygon points="1043.78,689.48 1034.68,698.58 1025.58,689.48 1034.68,680.38" fill="#fff" stroke="#FFDC5A" stroke-width="4.30" stroke-linejoin="miter"/><polygon points="1060.97,712.21 1051.87,721.31 1042.77,712.21 1051.87,703.11" fill="#fff" stroke="#FFDC5A" stroke-width="4.30" stroke-linejoin="miter"/><polygon points="1078.36,734.94 1069.26,744.04 1060.16,734.94 1069.26,725.84" fill="#fff" stroke="#FFDC5A" stroke-width="4.30" stroke-linejoin="miter"/><polygon points="1095.96,757.67 1086.86,766.77 1077.76,757.67 1086.86,748.57" fill="#fff" stroke="#FFDC5A" stroke-width="4.30" stroke-linejoin="miter"/><polygon points="1113.77,780.39 1104.67,789.49 1095.57,780.39 1104.67,771.29" fill="#fff" stroke="#FFDC5A" stroke-width="4.30" stroke-linejoin="miter"/><polygon points="1131.79,803.12 1122.69,812.22 1113.59,803.12 1122.69,794.02" fill="#fff" stroke="#FFDC5A" stroke-width="4.30" stroke-linejoin="miter"/><polygon points="1150.04,825.85 1140.94,834.95 1131.84,825.85 1140.94,816.75" fill="#fff" stroke="#FFDC5A" stroke-width="4.30" stroke-linejoin="miter"/><polygon points="1168.50,848.58 1159.40,857.68 1150.30,848.58 1159.40,839.48" fill="#fff" stroke="#FFDC5A" stroke-width="4.30" stroke-linejoin="miter"/><polygon points="1187.19,871.31 1178.09,880.41 1168.99,871.31 1178.09,862.21" fill="#fff" stroke="#FFDC5A" stroke-width="4.30" stroke-linejoin="miter"/><polygon points="1206.11,894.04 1197.01,903.14 1187.91,894.04 1197.01,884.94" fill="#fff" stroke="#FFDC5A" stroke-width="4.30" stroke-linejoin="miter"/><polygon points="1225.26,916.77 1216.16,925.87 1207.06,916.77 1216.16,907.67" fill="#fff" stroke="#FFDC5A" stroke-width="4.30" stroke-linejoin="miter"/><polygon points="1244.65,939.50 1235.55,948.60 1226.45,939.50 1235.55,930.40" fill="#fff" stroke="#FFDC5A" stroke-width="4.30" stroke-linejoin="miter"/><polygon points="1264.28,962.23 1255.18,971.33 1246.08,962.23 1255.18,953.12" fill="#fff" stroke="#FFDC5A" stroke-width="4.30" stroke-linejoin="miter"/><polygon points="1284.17,984.95 1275.07,994.05 1265.97,984.95 1275.07,975.85" fill="#fff" stroke="#FFDC5A" stroke-width="4.30" stroke-linejoin="miter"/><polygon points="1304.30,1007.68 1295.20,1016.78 1286.10,1007.68 1295.20,998.58" fill="#fff" stroke="#FFDC5A" stroke-width="4.30" stroke-linejoin="miter"/><polygon points="1324.69,1030.41 1315.59,1039.51 1306.49,1030.41 1315.59,1021.31" fill="#fff" stroke="#FFDC5A" stroke-width="4.30" stroke-linejoin="miter"/><polygon points="1345.34,1053.14 1336.24,1062.24 1327.14,1053.14 1336.24,1044.04" fill="#fff" stroke="#FFDC5A" stroke-width="4.30" stroke-linejoin="miter"/><polygon points="1366.26,1075.87 1357.16,1084.97 1348.06,1075.87 1357.16,1066.77" fill="#fff" stroke="#FFDC5A" stroke-width="4.30" stroke-linejoin="miter"/><polygon points="1387.46,1098.60 1378.36,1107.70 1369.26,1098.60 1378.36,1089.50" fill="#fff" stroke="#FFDC5A" stroke-width="4.30" stroke-linejoin="miter"/><polygon points="1408.93,1121.33 1399.83,1130.43 1390.73,1121.33 1399.83,1112.23" fill="#fff" stroke="#FFDC5A" stroke-width="4.30" stroke-linejoin="miter"/><polygon points="1430.68,1144.06 1421.58,1153.16 1412.48,1144.06 1421.58,1134.96" fill="#fff" stroke="#FFDC5A" stroke-width="4.30" stroke-linejoin="miter"/><polygon points="1452.72,1166.78 1443.62,1175.88 1434.52,1166.78 1443.62,1157.68" fill="#fff" stroke="#FFDC5A" stroke-width="4.30" stroke-linejoin="miter"/><polygon points="1475.06,1189.51 1465.96,1198.61 1456.86,1189.51 1465.96,1180.41" fill="#fff" stroke="#FFDC5A" stroke-width="4.30" stroke-linejoin="miter"/><polygon points="1497.70,1212.24 1488.60,1221.34 1479.50,1212.24 1488.60,1203.14" fill="#fff" stroke="#FFDC5A" stroke-width="4.30" stroke-linejoin="miter"/><polygon points="1520.64,1234.97 1511.54,1244.07 1502.44,1234.97 1511.54,1225.87" fill="#fff" stroke="#FFDC5A" stroke-width="4.30" stroke-linejoin="miter"/><polygon points="1543.90,1257.70 1534.80,1266.80 1525.70,1257.70 1534.80,1248.60" fill="#fff" stroke="#FFDC5A" stroke-width="4.30" stroke-linejoin="miter"/>
<polyline points="715.07,75.80 727.99,98.53 741.05,121.26 754.23,143.99 767.55,166.72 781.00,189.44 794.59,212.17 808.32,234.90 822.19,257.63 836.20,280.36 850.36,303.09 864.66,325.82 879.12,348.55 893.73,371.28 908.49,394.00 923.42,416.73 938.50,439.46 953.74,462.19 969.15,484.92 984.73,507.65 1000.48,530.38 1016.40,553.11 1032.50,575.83 1048.78,598.56 1065.24,621.29 1081.89,644.02 1098.72,666.75 1115.75,689.48 1132.97,712.21 1150.39,734.94 1168.01,757.67 1185.84,780.39 1203.88,803.12 1222.13,825.85 1240.60,848.58 1259.29,871.31 1278.20,894.04 1297.34,916.77 1316.72,939.50 1336.33,962.23 1356.18,984.95 1376.28,1007.68 1396.63,1030.41 1417.23,1053.14 1438.10,1075.87 1459.23,1098.60 1480.63,1121.33 1502.30,1144.06 1524.26,1166.78 1546.50,1189.51 1569.03,1212.24 1591.86,1234.97 1615.00,1257.70" fill="none" stroke="#FF9210" stroke-width="5.60" stroke-linejoin="round"/>
<polygon points="705.37,75.80 719.92,67.40 719.92,84.20" fill="#fff" stroke="#FF9210" stroke-width="4.30" stroke-linejoin="miter"/><polygon points="718.29,98.53 732.84,90.13 732.84,106.93" fill="#fff" stroke="#FF9210" stroke-width="4.30" stroke-linejoin="miter"/><polygon points="731.35,121.26 745.90,112.86 745.90,129.66" fill="#fff" stroke="#FF9210" stroke-width="4.30" stroke-linejoin="miter"/><polygon points="744.53,143.99 759.08,135.59 759.08,152.39" fill="#fff" stroke="#FF9210" stroke-width="4.30" stroke-linejoin="miter"/><polygon points="757.85,166.72 772.40,158.31 772.40,175.12" fill="#fff" stroke="#FF9210" stroke-width="4.30" stroke-linejoin="miter"/><polygon points="771.30,189.44 785.85,181.04 785.85,197.84" fill="#fff" stroke="#FF9210" stroke-width="4.30" stroke-linejoin="miter"/><polygon points="784.89,212.17 799.44,203.77 799.44,220.57" fill="#fff" stroke="#FF9210" stroke-width="4.30" stroke-linejoin="miter"/><polygon points="798.62,234.90 813.17,226.50 813.17,243.30" fill="#fff" stroke="#FF9210" stroke-width="4.30" stroke-linejoin="miter"/><polygon points="812.49,257.63 827.04,249.23 827.04,266.03" fill="#fff" stroke="#FF9210" stroke-width="4.30" stroke-linejoin="miter"/><polygon points="826.50,280.36 841.05,271.96 841.05,288.76" fill="#fff" stroke="#FF9210" stroke-width="4.30" stroke-linejoin="miter"/><polygon points="840.66,303.09 855.21,294.69 855.21,311.49" fill="#fff" stroke="#FF9210" stroke-width="4.30" stroke-linejoin="miter"/><polygon points="854.96,325.82 869.51,317.42 869.51,334.22" fill="#fff" stroke="#FF9210" stroke-width="4.30" stroke-linejoin="miter"/><polygon points="869.42,348.55 883.97,340.15 883.97,356.95" fill="#fff" stroke="#FF9210" stroke-width="4.30" stroke-linejoin="miter"/><polygon points="884.03,371.28 898.58,362.87 898.58,379.68" fill="#fff" stroke="#FF9210" stroke-width="4.30" stroke-linejoin="miter"/><polygon points="898.79,394.00 913.34,385.60 913.34,402.40" fill="#fff" stroke="#FF9210" stroke-width="4.30" stroke-linejoin="miter"/><polygon points="913.72,416.73 928.27,408.33 928.27,425.13" fill="#fff" stroke="#FF9210" stroke-width="4.30" stroke-linejoin="miter"/><polygon points="928.80,439.46 943.35,431.06 943.35,447.86" fill="#fff" stroke="#FF9210" stroke-width="4.30" stroke-linejoin="miter"/><polygon points="944.04,462.19 958.59,453.79 958.59,470.59" fill="#fff" stroke="#FF9210" stroke-width="4.30" stroke-linejoin="miter"/><polygon points="959.45,484.92 974.00,476.52 974.00,493.32" fill="#fff" stroke="#FF9210" stroke-width="4.30" stroke-linejoin="miter"/><polygon points="975.03,507.65 989.58,499.25 989.58,516.05" fill="#fff" stroke="#FF9210" stroke-width="4.30" stroke-linejoin="miter"/><polygon points="990.78,530.38 1005.33,521.98 1005.33,538.78" fill="#fff" stroke="#FF9210" stroke-width="4.30" stroke-linejoin="miter"/><polygon points="1006.70,553.11 1021.25,544.71 1021.25,561.51" fill="#fff" stroke="#FF9210" stroke-width="4.30" stroke-linejoin="miter"/><polygon points="1022.80,575.83 1037.35,567.43 1037.35,584.24" fill="#fff" stroke="#FF9210" stroke-width="4.30" stroke-linejoin="miter"/><polygon points="1039.08,598.56 1053.63,590.16 1053.63,606.96" fill="#fff" stroke="#FF9210" stroke-width="4.30" stroke-linejoin="miter"/><polygon points="1055.54,621.29 1070.09,612.89 1070.09,629.69" fill="#fff" stroke="#FF9210" stroke-width="4.30" stroke-linejoin="miter"/><polygon points="1072.19,644.02 1086.74,635.62 1086.74,652.42" fill="#fff" stroke="#FF9210" stroke-width="4.30" stroke-linejoin="miter"/><polygon points="1089.02,666.75 1103.57,658.35 1103.57,675.15" fill="#fff" stroke="#FF9210" stroke-width="4.30" stroke-linejoin="miter"/><polygon points="1106.05,689.48 1120.60,681.08 1120.60,697.88" fill="#fff" stroke="#FF9210" stroke-width="4.30" stroke-linejoin="miter"/><polygon points="1123.27,712.21 1137.82,703.81 1137.82,720.61" fill="#fff" stroke="#FF9210" stroke-width="4.30" stroke-linejoin="miter"/><polygon points="1140.69,734.94 1155.24,726.54 1155.24,743.34" fill="#fff" stroke="#FF9210" stroke-width="4.30" stroke-linejoin="miter"/><polygon points="1158.31,757.67 1172.86,749.26 1172.86,766.07" fill="#fff" stroke="#FF9210" stroke-width="4.30" stroke-linejoin="miter"/><polygon points="1176.14,780.39 1190.69,771.99 1190.69,788.79" fill="#fff" stroke="#FF9210" stroke-width="4.30" stroke-linejoin="miter"/><polygon points="1194.18,803.12 1208.73,794.72 1208.73,811.52" fill="#fff" stroke="#FF9210" stroke-width="4.30" stroke-linejoin="miter"/><polygon points="1212.43,825.85 1226.98,817.45 1226.98,834.25" fill="#fff" stroke="#FF9210" stroke-width="4.30" stroke-linejoin="miter"/><polygon points="1230.90,848.58 1245.45,840.18 1245.45,856.98" fill="#fff" stroke="#FF9210" stroke-width="4.30" stroke-linejoin="miter"/><polygon points="1249.59,871.31 1264.14,862.91 1264.14,879.71" fill="#fff" stroke="#FF9210" stroke-width="4.30" stroke-linejoin="miter"/><polygon points="1268.50,894.04 1283.05,885.64 1283.05,902.44" fill="#fff" stroke="#FF9210" stroke-width="4.30" stroke-linejoin="miter"/><polygon points="1287.64,916.77 1302.19,908.37 1302.19,925.17" fill="#fff" stroke="#FF9210" stroke-width="4.30" stroke-linejoin="miter"/><polygon points="1307.02,939.50 1321.57,931.10 1321.57,947.90" fill="#fff" stroke="#FF9210" stroke-width="4.30" stroke-linejoin="miter"/><polygon points="1326.63,962.23 1341.18,953.82 1341.18,970.63" fill="#fff" stroke="#FF9210" stroke-width="4.30" stroke-linejoin="miter"/><polygon points="1346.48,984.95 1361.03,976.55 1361.03,993.35" fill="#fff" stroke="#FF9210" stroke-width="4.30" stroke-linejoin="miter"/><polygon points="1366.58,1007.68 1381.13,999.28 1381.13,1016.08" fill="#fff" stroke="#FF9210" stroke-width="4.30" stroke-linejoin="miter"/><polygon points="1386.93,1030.41 1401.48,1022.01 1401.48,1038.81" fill="#fff" stroke="#FF9210" stroke-width="4.30" stroke-linejoin="miter"/><polygon points="1407.53,1053.14 1422.08,1044.74 1422.08,1061.54" fill="#fff" stroke="#FF9210" stroke-width="4.30" stroke-linejoin="miter"/><polygon points="1428.40,1075.87 1442.95,1067.47 1442.95,1084.27" fill="#fff" stroke="#FF9210" stroke-width="4.30" stroke-linejoin="miter"/><polygon points="1449.53,1098.60 1464.08,1090.20 1464.08,1107.00" fill="#fff" stroke="#FF9210" stroke-width="4.30" stroke-linejoin="miter"/><polygon points="1470.93,1121.33 1485.48,1112.93 1485.48,1129.73" fill="#fff" stroke="#FF9210" stroke-width="4.30" stroke-linejoin="miter"/><polygon points="1492.60,1144.06 1507.15,1135.66 1507.15,1152.46" fill="#fff" stroke="#FF9210" stroke-width="4.30" stroke-linejoin="miter"/><polygon points="1514.56,1166.78 1529.11,1158.38 1529.11,1175.19" fill="#fff" stroke="#FF9210" stroke-width="4.30" stroke-linejoin="miter"/><polygon points="1536.80,1189.51 1551.35,1181.11 1551.35,1197.91" fill="#fff" stroke="#FF9210" stroke-width="4.30" stroke-linejoin="miter"/><polygon points="1559.33,1212.24 1573.88,1203.84 1573.88,1220.64" fill="#fff" stroke="#FF9210" stroke-width="4.30" stroke-linejoin="miter"/><polygon points="1582.16,1234.97 1596.71,1226.57 1596.71,1243.37" fill="#fff" stroke="#FF9210" stroke-width="4.30" stroke-linejoin="miter"/><polygon points="1605.30,1257.70 1619.85,1249.30 1619.85,1266.10" fill="#fff" stroke="#FF9210" stroke-width="4.30" stroke-linejoin="miter"/>
<polyline points="805.95,75.80 818.70,98.53 831.57,121.26 844.59,143.99 857.74,166.72 871.03,189.44 884.46,212.17 898.03,234.90 911.75,257.63 925.61,280.36 939.63,303.09 953.80,325.82 968.13,348.55 982.61,371.28 997.25,394.00 1012.06,416.73 1027.03,439.46 1042.17,462.19 1057.49,484.92 1072.97,507.65 1088.64,530.38 1104.48,553.11 1120.51,575.83 1136.73,598.56 1153.14,621.29 1169.74,644.02 1186.53,666.75 1203.53,689.48 1220.73,712.21 1238.14,734.94 1255.76,757.67 1273.60,780.39 1291.66,803.12 1309.94,825.85 1328.45,848.58 1347.19,871.31 1366.16,894.04 1385.38,916.77 1404.84,939.50 1424.56,962.23 1444.53,984.95 1464.75,1007.68 1485.25,1030.41 1506.01,1053.14 1527.05,1075.87 1548.37,1098.60 1569.98,1121.33 1591.88,1144.06 1614.08,1166.78 1636.59,1189.51 1659.41,1212.24 1682.54,1234.97 1706.00,1257.70" fill="none" stroke="#BA5A00" stroke-width="5.60" stroke-linejoin="round"/>
<polygon points="815.65,75.80 801.10,84.20 801.10,67.40" fill="#fff" stroke="#BA5A00" stroke-width="4.30" stroke-linejoin="miter"/><polygon points="828.40,98.53 813.85,106.93 813.85,90.13" fill="#fff" stroke="#BA5A00" stroke-width="4.30" stroke-linejoin="miter"/><polygon points="841.27,121.26 826.72,129.66 826.72,112.86" fill="#fff" stroke="#BA5A00" stroke-width="4.30" stroke-linejoin="miter"/><polygon points="854.29,143.99 839.74,152.39 839.74,135.59" fill="#fff" stroke="#BA5A00" stroke-width="4.30" stroke-linejoin="miter"/><polygon points="867.44,166.72 852.89,175.12 852.89,158.31" fill="#fff" stroke="#BA5A00" stroke-width="4.30" stroke-linejoin="miter"/><polygon points="880.73,189.44 866.18,197.84 866.18,181.04" fill="#fff" stroke="#BA5A00" stroke-width="4.30" stroke-linejoin="miter"/><polygon points="894.16,212.17 879.61,220.57 879.61,203.77" fill="#fff" stroke="#BA5A00" stroke-width="4.30" stroke-linejoin="miter"/><polygon points="907.73,234.90 893.18,243.30 893.18,226.50" fill="#fff" stroke="#BA5A00" stroke-width="4.30" stroke-linejoin="miter"/><polygon points="921.45,257.63 906.90,266.03 906.90,249.23" fill="#fff" stroke="#BA5A00" stroke-width="4.30" stroke-linejoin="miter"/><polygon points="935.31,280.36 920.76,288.76 920.76,271.96" fill="#fff" stroke="#BA5A00" stroke-width="4.30" stroke-linejoin="miter"/><polygon points="949.33,303.09 934.78,311.49 934.78,294.69" fill="#fff" stroke="#BA5A00" stroke-width="4.30" stroke-linejoin="miter"/><polygon points="963.50,325.82 948.95,334.22 948.95,317.42" fill="#fff" stroke="#BA5A00" stroke-width="4.30" stroke-linejoin="miter"/><polygon points="977.83,348.55 963.28,356.95 963.28,340.15" fill="#fff" stroke="#BA5A00" stroke-width="4.30" stroke-linejoin="miter"/><polygon points="992.31,371.28 977.76,379.68 977.76,362.87" fill="#fff" stroke="#BA5A00" stroke-width="4.30" stroke-linejoin="miter"/><polygon points="1006.95,394.00 992.40,402.40 992.40,385.60" fill="#fff" stroke="#BA5A00" stroke-width="4.30" stroke-linejoin="miter"/><polygon points="1021.76,416.73 1007.21,425.13 1007.21,408.33" fill="#fff" stroke="#BA5A00" stroke-width="4.30" stroke-linejoin="miter"/><polygon points="1036.73,439.46 1022.18,447.86 1022.18,431.06" fill="#fff" stroke="#BA5A00" stroke-width="4.30" stroke-linejoin="miter"/><polygon points="1051.87,462.19 1037.32,470.59 1037.32,453.79" fill="#fff" stroke="#BA5A00" stroke-width="4.30" stroke-linejoin="miter"/><polygon points="1067.19,484.92 1052.64,493.32 1052.64,476.52" fill="#fff" stroke="#BA5A00" stroke-width="4.30" stroke-linejoin="miter"/><polygon points="1082.67,507.65 1068.12,516.05 1068.12,499.25" fill="#fff" stroke="#BA5A00" stroke-width="4.30" stroke-linejoin="miter"/><polygon points="1098.34,530.38 1083.79,538.78 1083.79,521.98" fill="#fff" stroke="#BA5A00" stroke-width="4.30" stroke-linejoin="miter"/><polygon points="1114.18,553.11 1099.63,561.51 1099.63,544.71" fill="#fff" stroke="#BA5A00" stroke-width="4.30" stroke-linejoin="miter"/><polygon points="1130.21,575.83 1115.66,584.24 1115.66,567.43" fill="#fff" stroke="#BA5A00" stroke-width="4.30" stroke-linejoin="miter"/><polygon points="1146.43,598.56 1131.88,606.96 1131.88,590.16" fill="#fff" stroke="#BA5A00" stroke-width="4.30" stroke-linejoin="miter"/><polygon points="1162.84,621.29 1148.29,629.69 1148.29,612.89" fill="#fff" stroke="#BA5A00" stroke-width="4.30" stroke-linejoin="miter"/><polygon points="1179.44,644.02 1164.89,652.42 1164.89,635.62" fill="#fff" stroke="#BA5A00" stroke-width="4.30" stroke-linejoin="miter"/><polygon points="1196.23,666.75 1181.68,675.15 1181.68,658.35" fill="#fff" stroke="#BA5A00" stroke-width="4.30" stroke-linejoin="miter"/><polygon points="1213.23,689.48 1198.68,697.88 1198.68,681.08" fill="#fff" stroke="#BA5A00" stroke-width="4.30" stroke-linejoin="miter"/><polygon points="1230.43,712.21 1215.88,720.61 1215.88,703.81" fill="#fff" stroke="#BA5A00" stroke-width="4.30" stroke-linejoin="miter"/><polygon points="1247.84,734.94 1233.29,743.34 1233.29,726.54" fill="#fff" stroke="#BA5A00" stroke-width="4.30" stroke-linejoin="miter"/><polygon points="1265.46,757.67 1250.91,766.07 1250.91,749.26" fill="#fff" stroke="#BA5A00" stroke-width="4.30" stroke-linejoin="miter"/><polygon points="1283.30,780.39 1268.75,788.79 1268.75,771.99" fill="#fff" stroke="#BA5A00" stroke-width="4.30" stroke-linejoin="miter"/><polygon points="1301.36,803.12 1286.81,811.52 1286.81,794.72" fill="#fff" stroke="#BA5A00" stroke-width="4.30" stroke-linejoin="miter"/><polygon points="1319.64,825.85 1305.09,834.25 1305.09,817.45" fill="#fff" stroke="#BA5A00" stroke-width="4.30" stroke-linejoin="miter"/><polygon points="1338.15,848.58 1323.60,856.98 1323.60,840.18" fill="#fff" stroke="#BA5A00" stroke-width="4.30" stroke-linejoin="miter"/><polygon points="1356.89,871.31 1342.34,879.71 1342.34,862.91" fill="#fff" stroke="#BA5A00" stroke-width="4.30" stroke-linejoin="miter"/><polygon points="1375.86,894.04 1361.31,902.44 1361.31,885.64" fill="#fff" stroke="#BA5A00" stroke-width="4.30" stroke-linejoin="miter"/><polygon points="1395.08,916.77 1380.53,925.17 1380.53,908.37" fill="#fff" stroke="#BA5A00" stroke-width="4.30" stroke-linejoin="miter"/><polygon points="1414.54,939.50 1399.99,947.90 1399.99,931.10" fill="#fff" stroke="#BA5A00" stroke-width="4.30" stroke-linejoin="miter"/><polygon points="1434.26,962.23 1419.71,970.63 1419.71,953.82" fill="#fff" stroke="#BA5A00" stroke-width="4.30" stroke-linejoin="miter"/><polygon points="1454.23,984.95 1439.68,993.35 1439.68,976.55" fill="#fff" stroke="#BA5A00" stroke-width="4.30" stroke-linejoin="miter"/><polygon points="1474.45,1007.68 1459.90,1016.08 1459.90,999.28" fill="#fff" stroke="#BA5A00" stroke-width="4.30" stroke-linejoin="miter"/><polygon points="1494.95,1030.41 1480.40,1038.81 1480.40,1022.01" fill="#fff" stroke="#BA5A00" stroke-width="4.30" stroke-linejoin="miter"/><polygon points="1515.71,1053.14 1501.16,1061.54 1501.16,1044.74" fill="#fff" stroke="#BA5A00" stroke-width="4.30" stroke-linejoin="miter"/><polygon points="1536.75,1075.87 1522.20,1084.27 1522.20,1067.47" fill="#fff" stroke="#BA5A00" stroke-width="4.30" stroke-linejoin="miter"/><polygon points="1558.07,1098.60 1543.52,1107.00 1543.52,1090.20" fill="#fff" stroke="#BA5A00" stroke-width="4.30" stroke-linejoin="miter"/><polygon points="1579.68,1121.33 1565.13,1129.73 1565.13,1112.93" fill="#fff" stroke="#BA5A00" stroke-width="4.30" stroke-linejoin="miter"/><polygon points="1601.58,1144.06 1587.03,1152.46 1587.03,1135.66" fill="#fff" stroke="#BA5A00" stroke-width="4.30" stroke-linejoin="miter"/><polygon points="1623.78,1166.78 1609.23,1175.19 1609.23,1158.38" fill="#fff" stroke="#BA5A00" stroke-width="4.30" stroke-linejoin="miter"/><polygon points="1646.29,1189.51 1631.74,1197.91 1631.74,1181.11" fill="#fff" stroke="#BA5A00" stroke-width="4.30" stroke-linejoin="miter"/><polygon points="1669.11,1212.24 1654.56,1220.64 1654.56,1203.84" fill="#fff" stroke="#BA5A00" stroke-width="4.30" stroke-linejoin="miter"/><polygon points="1692.24,1234.97 1677.69,1243.37 1677.69,1226.57" fill="#fff" stroke="#BA5A00" stroke-width="4.30" stroke-linejoin="miter"/><polygon points="1715.70,1257.70 1701.15,1266.10 1701.15,1249.30" fill="#fff" stroke="#BA5A00" stroke-width="4.30" stroke-linejoin="miter"/>
<polyline points="1021.26,75.80 1034.08,98.53 1047.04,121.26 1060.13,143.99 1073.35,166.72 1086.71,189.44 1100.22,212.17 1113.86,234.90 1127.65,257.63 1141.59,280.36 1155.67,303.09 1169.91,325.82 1184.30,348.55 1198.85,371.28 1213.55,394.00 1228.42,416.73 1243.45,439.46 1258.65,462.19 1274.02,484.92 1289.56,507.65 1305.28,530.38 1321.18,553.11 1337.26,575.83 1353.52,598.56 1369.97,621.29 1386.61,644.02 1403.45,666.75 1420.49,689.48 1437.72,712.21 1455.17,734.94 1472.82,757.67 1490.68,780.39 1508.77,803.12 1527.07,825.85 1545.59,848.58 1564.35,871.31 1583.34,894.04 1602.56,916.77 1622.03,939.50 1641.75,962.23 1661.71,984.95 1681.94,1007.68 1702.42,1030.41 1723.17,1053.14 1744.19,1075.87 1765.49,1098.60 1787.07,1121.33 1808.93,1144.06 1831.10,1166.78 1853.56,1189.51 1876.32,1212.24 1899.40,1234.97 1922.80,1257.70" fill="none" stroke="#8000FF" stroke-width="5.60" stroke-linejoin="round"/>
<polygon points="1021.26,67.15 1029.49,73.13 1026.34,82.80 1016.17,82.80 1013.03,73.13" fill="#fff" stroke="#8000FF" stroke-width="4.30" stroke-linejoin="miter"/><polygon points="1034.08,89.88 1042.31,95.86 1039.17,105.53 1029.00,105.53 1025.86,95.86" fill="#fff" stroke="#8000FF" stroke-width="4.30" stroke-linejoin="miter"/><polygon points="1047.04,112.61 1055.26,118.58 1052.12,128.26 1041.95,128.26 1038.81,118.58" fill="#fff" stroke="#8000FF" stroke-width="4.30" stroke-linejoin="miter"/><polygon points="1060.13,135.34 1068.35,141.31 1065.21,150.98 1055.04,150.98 1051.90,141.31" fill="#fff" stroke="#8000FF" stroke-width="4.30" stroke-linejoin="miter"/><polygon points="1073.35,158.07 1081.58,164.04 1078.44,173.71 1068.27,173.71 1065.12,164.04" fill="#fff" stroke="#8000FF" stroke-width="4.30" stroke-linejoin="miter"/><polygon points="1086.71,180.79 1094.94,186.77 1091.80,196.44 1081.63,196.44 1078.49,186.77" fill="#fff" stroke="#8000FF" stroke-width="4.30" stroke-linejoin="miter"/><polygon points="1100.22,203.52 1108.44,209.50 1105.30,219.17 1095.13,219.17 1091.99,209.50" fill="#fff" stroke="#8000FF" stroke-width="4.30" stroke-linejoin="miter"/><polygon points="1113.86,226.25 1122.09,232.23 1118.94,241.90 1108.78,241.90 1105.63,232.23" fill="#fff" stroke="#8000FF" stroke-width="4.30" stroke-linejoin="miter"/><polygon points="1127.65,248.98 1135.88,254.96 1132.73,264.63 1122.57,264.63 1119.42,254.96" fill="#fff" stroke="#8000FF" stroke-width="4.30" stroke-linejoin="miter"/><polygon points="1141.59,271.71 1149.81,277.69 1146.67,287.36 1136.50,287.36 1133.36,277.69" fill="#fff" stroke="#8000FF" stroke-width="4.30" stroke-linejoin="miter"/><polygon points="1155.67,294.44 1163.90,300.42 1160.76,310.09 1150.59,310.09 1147.44,300.42" fill="#fff" stroke="#8000FF" stroke-width="4.30" stroke-linejoin="miter"/><polygon points="1169.91,317.17 1178.13,323.14 1174.99,332.82 1164.82,332.82 1161.68,323.14" fill="#fff" stroke="#8000FF" stroke-width="4.30" stroke-linejoin="miter"/><polygon points="1184.30,339.90 1192.52,345.87 1189.38,355.54 1179.21,355.54 1176.07,345.87" fill="#fff" stroke="#8000FF" stroke-width="4.30" stroke-linejoin="miter"/><polygon points="1198.85,362.63 1207.07,368.60 1203.93,378.27 1193.76,378.27 1190.62,368.60" fill="#fff" stroke="#8000FF" stroke-width="4.30" stroke-linejoin="miter"/><polygon points="1213.55,385.35 1221.78,391.33 1218.64,401.00 1208.47,401.00 1205.32,391.33" fill="#fff" stroke="#8000FF" stroke-width="4.30" stroke-linejoin="miter"/><polygon points="1228.42,408.08 1236.65,414.06 1233.50,423.73 1223.34,423.73 1220.19,414.06" fill="#fff" stroke="#8000FF" stroke-width="4.30" stroke-linejoin="miter"/><polygon points="1243.45,430.81 1251.68,436.79 1248.54,446.46 1238.37,446.46 1235.23,436.79" fill="#fff" stroke="#8000FF" stroke-width="4.30" stroke-linejoin="miter"/><polygon points="1258.65,453.54 1266.88,459.52 1263.74,469.19 1253.57,469.19 1250.42,459.52" fill="#fff" stroke="#8000FF" stroke-width="4.30" stroke-linejoin="miter"/><polygon points="1274.02,476.27 1282.25,482.25 1279.10,491.92 1268.94,491.92 1265.79,482.25" fill="#fff" stroke="#8000FF" stroke-width="4.30" stroke-linejoin="miter"/><polygon points="1289.56,499.00 1297.79,504.98 1294.65,514.65 1284.48,514.65 1281.34,504.98" fill="#fff" stroke="#8000FF" stroke-width="4.30" stroke-linejoin="miter"/><polygon points="1305.28,521.73 1313.51,527.70 1310.37,537.37 1300.20,537.37 1297.05,527.70" fill="#fff" stroke="#8000FF" stroke-width="4.30" stroke-linejoin="miter"/><polygon points="1321.18,544.46 1329.40,550.43 1326.26,560.10 1316.09,560.10 1312.95,550.43" fill="#fff" stroke="#8000FF" stroke-width="4.30" stroke-linejoin="miter"/><polygon points="1337.26,567.18 1345.48,573.16 1342.34,582.83 1332.17,582.83 1329.03,573.16" fill="#fff" stroke="#8000FF" stroke-width="4.30" stroke-linejoin="miter"/><polygon points="1353.52,589.91 1361.75,595.89 1358.60,605.56 1348.43,605.56 1345.29,595.89" fill="#fff" stroke="#8000FF" stroke-width="4.30" stroke-linejoin="miter"/><polygon points="1369.97,612.64 1378.20,618.62 1375.05,628.29 1364.89,628.29 1361.74,618.62" fill="#fff" stroke="#8000FF" stroke-width="4.30" stroke-linejoin="miter"/><polygon points="1386.61,635.37 1394.84,641.35 1391.70,651.02 1381.53,651.02 1378.39,641.35" fill="#fff" stroke="#8000FF" stroke-width="4.30" stroke-linejoin="miter"/><polygon points="1403.45,658.10 1411.68,664.08 1408.54,673.75 1398.37,673.75 1395.22,664.08" fill="#fff" stroke="#8000FF" stroke-width="4.30" stroke-linejoin="miter"/><polygon points="1420.49,680.83 1428.71,686.81 1425.57,696.48 1415.40,696.48 1412.26,686.81" fill="#fff" stroke="#8000FF" stroke-width="4.30" stroke-linejoin="miter"/><polygon points="1437.72,703.56 1445.95,709.53 1442.81,719.21 1432.64,719.21 1429.50,709.53" fill="#fff" stroke="#8000FF" stroke-width="4.30" stroke-linejoin="miter"/><polygon points="1455.17,726.29 1463.39,732.26 1460.25,741.93 1450.08,741.93 1446.94,732.26" fill="#fff" stroke="#8000FF" stroke-width="4.30" stroke-linejoin="miter"/><polygon points="1472.82,749.02 1481.05,754.99 1477.90,764.66 1467.74,764.66 1464.59,754.99" fill="#fff" stroke="#8000FF" stroke-width="4.30" stroke-linejoin="miter"/><polygon points="1490.68,771.74 1498.91,777.72 1495.77,787.39 1485.60,787.39 1482.46,777.72" fill="#fff" stroke="#8000FF" stroke-width="4.30" stroke-linejoin="miter"/><polygon points="1508.77,794.47 1516.99,800.45 1513.85,810.12 1503.68,810.12 1500.54,800.45" fill="#fff" stroke="#8000FF" stroke-width="4.30" stroke-linejoin="miter"/><polygon points="1527.07,817.20 1535.29,823.18 1532.15,832.85 1521.98,832.85 1518.84,823.18" fill="#fff" stroke="#8000FF" stroke-width="4.30" stroke-linejoin="miter"/><polygon points="1545.59,839.93 1553.82,845.91 1550.68,855.58 1540.51,855.58 1537.37,845.91" fill="#fff" stroke="#8000FF" stroke-width="4.30" stroke-linejoin="miter"/><polygon points="1564.35,862.66 1572.58,868.64 1569.43,878.31 1559.27,878.31 1556.12,868.64" fill="#fff" stroke="#8000FF" stroke-width="4.30" stroke-linejoin="miter"/><polygon points="1583.34,885.39 1591.57,891.37 1588.42,901.04 1578.25,901.04 1575.11,891.37" fill="#fff" stroke="#8000FF" stroke-width="4.30" stroke-linejoin="miter"/><polygon points="1602.56,908.12 1610.79,914.09 1607.65,923.77 1597.48,923.77 1594.34,914.09" fill="#fff" stroke="#8000FF" stroke-width="4.30" stroke-linejoin="miter"/><polygon points="1622.03,930.85 1630.26,936.82 1627.12,946.49 1616.95,946.49 1613.81,936.82" fill="#fff" stroke="#8000FF" stroke-width="4.30" stroke-linejoin="miter"/><polygon points="1641.75,953.58 1649.97,959.55 1646.83,969.22 1636.66,969.22 1633.52,959.55" fill="#fff" stroke="#8000FF" stroke-width="4.30" stroke-linejoin="miter"/><polygon points="1661.71,976.30 1669.94,982.28 1666.80,991.95 1656.63,991.95 1653.49,982.28" fill="#fff" stroke="#8000FF" stroke-width="4.30" stroke-linejoin="miter"/><polygon points="1681.94,999.03 1690.16,1005.01 1687.02,1014.68 1676.85,1014.68 1673.71,1005.01" fill="#fff" stroke="#8000FF" stroke-width="4.30" stroke-linejoin="miter"/><polygon points="1702.42,1021.76 1710.65,1027.74 1707.50,1037.41 1697.34,1037.41 1694.19,1027.74" fill="#fff" stroke="#8000FF" stroke-width="4.30" stroke-linejoin="miter"/><polygon points="1723.17,1044.49 1731.40,1050.47 1728.25,1060.14 1718.08,1060.14 1714.94,1050.47" fill="#fff" stroke="#8000FF" stroke-width="4.30" stroke-linejoin="miter"/><polygon points="1744.19,1067.22 1752.42,1073.20 1749.27,1082.87 1739.11,1082.87 1735.96,1073.20" fill="#fff" stroke="#8000FF" stroke-width="4.30" stroke-linejoin="miter"/><polygon points="1765.49,1089.95 1773.71,1095.93 1770.57,1105.60 1760.40,1105.60 1757.26,1095.93" fill="#fff" stroke="#8000FF" stroke-width="4.30" stroke-linejoin="miter"/><polygon points="1787.07,1112.68 1795.29,1118.65 1792.15,1128.32 1781.98,1128.32 1778.84,1118.65" fill="#fff" stroke="#8000FF" stroke-width="4.30" stroke-linejoin="miter"/><polygon points="1808.93,1135.41 1817.16,1141.38 1814.02,1151.05 1803.85,1151.05 1800.71,1141.38" fill="#fff" stroke="#8000FF" stroke-width="4.30" stroke-linejoin="miter"/><polygon points="1831.10,1158.13 1839.32,1164.11 1836.18,1173.78 1826.01,1173.78 1822.87,1164.11" fill="#fff" stroke="#8000FF" stroke-width="4.30" stroke-linejoin="miter"/><polygon points="1853.56,1180.86 1861.78,1186.84 1858.64,1196.51 1848.47,1196.51 1845.33,1186.84" fill="#fff" stroke="#8000FF" stroke-width="4.30" stroke-linejoin="miter"/><polygon points="1876.32,1203.59 1884.55,1209.57 1881.41,1219.24 1871.24,1219.24 1868.10,1209.57" fill="#fff" stroke="#8000FF" stroke-width="4.30" stroke-linejoin="miter"/><polygon points="1899.40,1226.32 1907.63,1232.30 1904.49,1241.97 1894.32,1241.97 1891.18,1232.30" fill="#fff" stroke="#8000FF" stroke-width="4.30" stroke-linejoin="miter"/><polygon points="1922.80,1249.05 1931.03,1255.03 1927.88,1264.70 1917.72,1264.70 1914.57,1255.03" fill="#fff" stroke="#8000FF" stroke-width="4.30" stroke-linejoin="miter"/>
<polyline points="565.05,75.80 574.30,98.53 583.64,121.26 593.08,143.99 602.61,166.72 612.24,189.44 621.97,212.17 631.80,234.90 641.73,257.63 651.77,280.36 661.91,303.09 672.16,325.82 682.52,348.55 692.99,371.28 703.58,394.00 714.27,416.73 725.09,439.46 736.02,462.19 747.07,484.92 758.25,507.65 769.55,530.38 780.97,553.11 792.52,575.83 804.21,598.56 816.03,621.29 827.98,644.02 840.07,666.75 852.30,689.48 864.67,712.21 877.19,734.94 889.85,757.67 902.67,780.39 915.63,803.12 928.75,825.85 942.03,848.58 955.48,871.31 969.08,894.04 982.85,916.77 996.80,939.50 1010.91,962.23 1025.21,984.95 1039.68,1007.68 1054.34,1030.41 1069.18,1053.14 1084.21,1075.87 1099.44,1098.60 1114.87,1121.33 1130.49,1144.06 1146.33,1166.78 1162.37,1189.51 1178.63,1212.24 1195.10,1234.97 1211.80,1257.70" fill="none" stroke="#FF3B3B" stroke-width="5.60" stroke-linejoin="round"/>
<polygon points="565.05,65.40 567.99,71.75 574.94,72.59 569.81,77.35 571.16,84.21 565.05,80.80 558.94,84.21 560.30,77.35 555.16,72.59 562.11,71.75" fill="#FF3B3B" stroke="#FF3B3B" stroke-width="2.00" stroke-linejoin="round"/><polygon points="574.30,88.13 577.24,94.48 584.19,95.32 579.06,100.07 580.41,106.94 574.30,103.53 568.19,106.94 569.54,100.07 564.41,95.32 571.36,94.48" fill="#FF3B3B" stroke="#FF3B3B" stroke-width="2.00" stroke-linejoin="round"/><polygon points="583.64,110.86 586.58,117.21 593.53,118.04 588.40,122.80 589.75,129.67 583.64,126.26 577.53,129.67 578.89,122.80 573.75,118.04 580.70,117.21" fill="#FF3B3B" stroke="#FF3B3B" stroke-width="2.00" stroke-linejoin="round"/><polygon points="593.08,133.59 596.02,139.94 602.97,140.77 597.83,145.53 599.19,152.40 593.08,148.99 586.96,152.40 588.32,145.53 583.19,140.77 590.14,139.94" fill="#FF3B3B" stroke="#FF3B3B" stroke-width="2.00" stroke-linejoin="round"/><polygon points="602.61,156.32 605.55,162.67 612.50,163.50 607.37,168.26 608.72,175.13 602.61,171.72 596.50,175.13 597.85,168.26 592.72,163.50 599.67,162.67" fill="#FF3B3B" stroke="#FF3B3B" stroke-width="2.00" stroke-linejoin="round"/><polygon points="612.24,179.04 615.18,185.40 622.13,186.23 617.00,190.99 618.35,197.86 612.24,194.44 606.13,197.86 607.48,190.99 602.35,186.23 609.30,185.40" fill="#FF3B3B" stroke="#FF3B3B" stroke-width="2.00" stroke-linejoin="round"/><polygon points="621.97,201.77 624.91,208.13 631.86,208.96 626.73,213.72 628.08,220.59 621.97,217.17 615.86,220.59 617.21,213.72 612.08,208.96 619.03,208.13" fill="#FF3B3B" stroke="#FF3B3B" stroke-width="2.00" stroke-linejoin="round"/><polygon points="631.80,224.50 634.74,230.86 641.69,231.69 636.56,236.45 637.91,243.32 631.80,239.90 625.69,243.32 627.05,236.45 621.91,231.69 628.86,230.86" fill="#FF3B3B" stroke="#FF3B3B" stroke-width="2.00" stroke-linejoin="round"/><polygon points="641.73,247.23 644.67,253.59 651.62,254.42 646.49,259.18 647.85,266.04 641.73,262.63 635.62,266.04 636.98,259.18 631.84,254.42 638.79,253.59" fill="#FF3B3B" stroke="#FF3B3B" stroke-width="2.00" stroke-linejoin="round"/><polygon points="651.77,269.96 654.71,276.31 661.66,277.15 656.53,281.90 657.88,288.77 651.77,285.36 645.66,288.77 647.02,281.90 641.88,277.15 648.83,276.31" fill="#FF3B3B" stroke="#FF3B3B" stroke-width="2.00" stroke-linejoin="round"/><polygon points="661.91,292.69 664.85,299.04 671.80,299.87 666.67,304.63 668.03,311.50 661.91,308.09 655.80,311.50 657.16,304.63 652.02,299.87 658.97,299.04" fill="#FF3B3B" stroke="#FF3B3B" stroke-width="2.00" stroke-linejoin="round"/><polygon points="672.16,315.42 675.10,321.77 682.06,322.60 676.92,327.36 678.28,334.23 672.16,330.82 666.05,334.23 667.41,327.36 662.27,322.60 669.23,321.77" fill="#FF3B3B" stroke="#FF3B3B" stroke-width="2.00" stroke-linejoin="round"/><polygon points="682.52,338.15 685.46,344.50 692.41,345.33 687.28,350.09 688.64,356.96 682.52,353.55 676.41,356.96 677.77,350.09 672.63,345.33 679.58,344.50" fill="#FF3B3B" stroke="#FF3B3B" stroke-width="2.00" stroke-linejoin="round"/><polygon points="692.99,360.88 695.93,367.23 702.88,368.06 697.75,372.82 699.11,379.69 692.99,376.28 686.88,379.69 688.24,372.82 683.10,368.06 690.05,367.23" fill="#FF3B3B" stroke="#FF3B3B" stroke-width="2.00" stroke-linejoin="round"/><polygon points="703.58,383.60 706.52,389.96 713.47,390.79 708.33,395.55 709.69,402.42 703.58,399.00 697.46,402.42 698.82,395.55 693.69,390.79 700.64,389.96" fill="#FF3B3B" stroke="#FF3B3B" stroke-width="2.00" stroke-linejoin="round"/><polygon points="714.27,406.33 717.21,412.69 724.17,413.52 719.03,418.28 720.39,425.15 714.27,421.73 708.16,425.15 709.52,418.28 704.38,413.52 711.34,412.69" fill="#FF3B3B" stroke="#FF3B3B" stroke-width="2.00" stroke-linejoin="round"/><polygon points="725.09,429.06 728.03,435.42 734.98,436.25 729.84,441.01 731.20,447.88 725.09,444.46 718.98,447.88 720.33,441.01 715.20,436.25 722.15,435.42" fill="#FF3B3B" stroke="#FF3B3B" stroke-width="2.00" stroke-linejoin="round"/><polygon points="736.02,451.79 738.96,458.15 745.91,458.98 740.78,463.74 742.13,470.60 736.02,467.19 729.91,470.60 731.26,463.74 726.13,458.98 733.08,458.15" fill="#FF3B3B" stroke="#FF3B3B" stroke-width="2.00" stroke-linejoin="round"/><polygon points="747.07,474.52 750.01,480.87 756.96,481.71 751.83,486.46 753.19,493.33 747.07,489.92 740.96,493.33 742.32,486.46 737.18,481.71 744.13,480.87" fill="#FF3B3B" stroke="#FF3B3B" stroke-width="2.00" stroke-linejoin="round"/><polygon points="758.25,497.25 761.19,503.60 768.14,504.43 763.00,509.19 764.36,516.06 758.25,512.65 752.13,516.06 753.49,509.19 748.36,504.43 755.31,503.60" fill="#FF3B3B" stroke="#FF3B3B" stroke-width="2.00" stroke-linejoin="round"/><polygon points="769.55,519.98 772.48,526.33 779.44,527.16 774.30,531.92 775.66,538.79 769.55,535.38 763.43,538.79 764.79,531.92 759.65,527.16 766.61,526.33" fill="#FF3B3B" stroke="#FF3B3B" stroke-width="2.00" stroke-linejoin="round"/><polygon points="780.97,542.71 783.91,549.06 790.86,549.89 785.73,554.65 787.08,561.52 780.97,558.11 774.86,561.52 776.22,554.65 771.08,549.89 778.03,549.06" fill="#FF3B3B" stroke="#FF3B3B" stroke-width="2.00" stroke-linejoin="round"/><polygon points="792.52,565.43 795.46,571.79 802.42,572.62 797.28,577.38 798.64,584.25 792.52,580.83 786.41,584.25 787.77,577.38 782.63,572.62 789.59,571.79" fill="#FF3B3B" stroke="#FF3B3B" stroke-width="2.00" stroke-linejoin="round"/><polygon points="804.21,588.16 807.15,594.52 814.10,595.35 808.96,600.11 810.32,606.98 804.21,603.56 798.10,606.98 799.45,600.11 794.32,595.35 801.27,594.52" fill="#FF3B3B" stroke="#FF3B3B" stroke-width="2.00" stroke-linejoin="round"/><polygon points="816.03,610.89 818.97,617.25 825.92,618.08 820.78,622.84 822.14,629.71 816.03,626.29 809.91,629.71 811.27,622.84 806.14,618.08 813.09,617.25" fill="#FF3B3B" stroke="#FF3B3B" stroke-width="2.00" stroke-linejoin="round"/><polygon points="827.98,633.62 830.92,639.98 837.87,640.81 832.73,645.57 834.09,652.43 827.98,649.02 821.87,652.43 823.22,645.57 818.09,640.81 825.04,639.98" fill="#FF3B3B" stroke="#FF3B3B" stroke-width="2.00" stroke-linejoin="round"/><polygon points="840.07,656.35 843.01,662.70 849.96,663.54 844.82,668.30 846.18,675.16 840.07,671.75 833.96,675.16 835.31,668.30 830.18,663.54 837.13,662.70" fill="#FF3B3B" stroke="#FF3B3B" stroke-width="2.00" stroke-linejoin="round"/><polygon points="852.30,679.08 855.24,685.43 862.19,686.27 857.05,691.02 858.41,697.89 852.30,694.48 846.18,697.89 847.54,691.02 842.41,686.27 849.36,685.43" fill="#FF3B3B" stroke="#FF3B3B" stroke-width="2.00" stroke-linejoin="round"/><polygon points="864.67,701.81 867.61,708.16 874.56,708.99 869.43,713.75 870.78,720.62 864.67,717.21 858.56,720.62 859.91,713.75 854.78,708.99 861.73,708.16" fill="#FF3B3B" stroke="#FF3B3B" stroke-width="2.00" stroke-linejoin="round"/><polygon points="877.19,724.54 880.13,730.89 887.08,731.72 881.94,736.48 883.30,743.35 877.19,739.94 871.07,743.35 872.43,736.48 867.30,731.72 874.25,730.89" fill="#FF3B3B" stroke="#FF3B3B" stroke-width="2.00" stroke-linejoin="round"/><polygon points="889.85,747.27 892.79,753.62 899.74,754.45 894.61,759.21 895.96,766.08 889.85,762.67 883.74,766.08 885.10,759.21 879.96,754.45 886.91,753.62" fill="#FF3B3B" stroke="#FF3B3B" stroke-width="2.00" stroke-linejoin="round"/><polygon points="902.67,769.99 905.60,776.35 912.56,777.18 907.42,781.94 908.78,788.81 902.67,785.39 896.55,788.81 897.91,781.94 892.77,777.18 899.73,776.35" fill="#FF3B3B" stroke="#FF3B3B" stroke-width="2.00" stroke-linejoin="round"/><polygon points="915.63,792.72 918.57,799.08 925.52,799.91 920.39,804.67 921.74,811.54 915.63,808.12 909.52,811.54 910.88,804.67 905.74,799.91 912.69,799.08" fill="#FF3B3B" stroke="#FF3B3B" stroke-width="2.00" stroke-linejoin="round"/><polygon points="928.75,815.45 931.69,821.81 938.65,822.64 933.51,827.40 934.87,834.27 928.75,830.85 922.64,834.27 924.00,827.40 918.86,822.64 925.82,821.81" fill="#FF3B3B" stroke="#FF3B3B" stroke-width="2.00" stroke-linejoin="round"/><polygon points="942.03,838.18 944.97,844.54 951.93,845.37 946.79,850.13 948.15,856.99 942.03,853.58 935.92,856.99 937.28,850.13 932.14,845.37 939.10,844.54" fill="#FF3B3B" stroke="#FF3B3B" stroke-width="2.00" stroke-linejoin="round"/><polygon points="955.48,860.91 958.42,867.26 965.37,868.10 960.23,872.85 961.59,879.72 955.48,876.31 949.36,879.72 950.72,872.85 945.59,868.10 952.54,867.26" fill="#FF3B3B" stroke="#FF3B3B" stroke-width="2.00" stroke-linejoin="round"/><polygon points="969.08,883.64 972.02,889.99 978.97,890.82 973.84,895.58 975.19,902.45 969.08,899.04 962.97,902.45 964.33,895.58 959.19,890.82 966.14,889.99" fill="#FF3B3B" stroke="#FF3B3B" stroke-width="2.00" stroke-linejoin="round"/><polygon points="982.85,906.37 985.79,912.72 992.75,913.55 987.61,918.31 988.97,925.18 982.85,921.77 976.74,925.18 978.10,918.31 972.96,913.55 979.92,912.72" fill="#FF3B3B" stroke="#FF3B3B" stroke-width="2.00" stroke-linejoin="round"/><polygon points="996.80,929.10 999.74,935.45 1006.69,936.28 1001.55,941.04 1002.91,947.91 996.80,944.50 990.68,947.91 992.04,941.04 986.91,936.28 993.86,935.45" fill="#FF3B3B" stroke="#FF3B3B" stroke-width="2.00" stroke-linejoin="round"/><polygon points="1010.91,951.83 1013.85,958.18 1020.80,959.01 1015.67,963.77 1017.03,970.64 1010.91,967.23 1004.80,970.64 1006.16,963.77 1001.02,959.01 1007.97,958.18" fill="#FF3B3B" stroke="#FF3B3B" stroke-width="2.00" stroke-linejoin="round"/><polygon points="1025.21,974.55 1028.15,980.91 1035.10,981.74 1029.96,986.50 1031.32,993.37 1025.21,989.95 1019.09,993.37 1020.45,986.50 1015.32,981.74 1022.27,980.91" fill="#FF3B3B" stroke="#FF3B3B" stroke-width="2.00" stroke-linejoin="round"/><polygon points="1039.68,997.28 1042.62,1003.64 1049.57,1004.47 1044.43,1009.23 1045.79,1016.10 1039.68,1012.68 1033.57,1016.10 1034.92,1009.23 1029.79,1004.47 1036.74,1003.64" fill="#FF3B3B" stroke="#FF3B3B" stroke-width="2.00" stroke-linejoin="round"/><polygon points="1054.34,1020.01 1057.27,1026.37 1064.23,1027.20 1059.09,1031.96 1060.45,1038.83 1054.34,1035.41 1048.22,1038.83 1049.58,1031.96 1044.44,1027.20 1051.40,1026.37" fill="#FF3B3B" stroke="#FF3B3B" stroke-width="2.00" stroke-linejoin="round"/><polygon points="1069.18,1042.74 1072.12,1049.10 1079.07,1049.93 1073.93,1054.69 1075.29,1061.55 1069.18,1058.14 1063.07,1061.55 1064.42,1054.69 1059.29,1049.93 1066.24,1049.10" fill="#FF3B3B" stroke="#FF3B3B" stroke-width="2.00" stroke-linejoin="round"/><polygon points="1084.21,1065.47 1087.15,1071.82 1094.10,1072.66 1088.97,1077.41 1090.32,1084.28 1084.21,1080.87 1078.10,1084.28 1079.46,1077.41 1074.32,1072.66 1081.27,1071.82" fill="#FF3B3B" stroke="#FF3B3B" stroke-width="2.00" stroke-linejoin="round"/><polygon points="1099.44,1088.20 1102.38,1094.55 1109.33,1095.38 1104.19,1100.14 1105.55,1107.01 1099.44,1103.60 1093.33,1107.01 1094.68,1100.14 1089.55,1095.38 1096.50,1094.55" fill="#FF3B3B" stroke="#FF3B3B" stroke-width="2.00" stroke-linejoin="round"/><polygon points="1114.87,1110.93 1117.80,1117.28 1124.76,1118.11 1119.62,1122.87 1120.98,1129.74 1114.87,1126.33 1108.75,1129.74 1110.11,1122.87 1104.97,1118.11 1111.93,1117.28" fill="#FF3B3B" stroke="#FF3B3B" stroke-width="2.00" stroke-linejoin="round"/><polygon points="1130.49,1133.66 1133.43,1140.01 1140.38,1140.84 1135.25,1145.60 1136.61,1152.47 1130.49,1149.06 1124.38,1152.47 1125.74,1145.60 1120.60,1140.84 1127.55,1140.01" fill="#FF3B3B" stroke="#FF3B3B" stroke-width="2.00" stroke-linejoin="round"/><polygon points="1146.33,1156.38 1149.26,1162.74 1156.22,1163.57 1151.08,1168.33 1152.44,1175.20 1146.33,1171.78 1140.21,1175.20 1141.57,1168.33 1136.43,1163.57 1143.39,1162.74" fill="#FF3B3B" stroke="#FF3B3B" stroke-width="2.00" stroke-linejoin="round"/><polygon points="1162.37,1179.11 1165.31,1185.47 1172.26,1186.30 1167.12,1191.06 1168.48,1197.93 1162.37,1194.51 1156.26,1197.93 1157.61,1191.06 1152.48,1186.30 1159.43,1185.47" fill="#FF3B3B" stroke="#FF3B3B" stroke-width="2.00" stroke-linejoin="round"/><polygon points="1178.63,1201.84 1181.56,1208.20 1188.52,1209.03 1183.38,1213.79 1184.74,1220.66 1178.63,1217.24 1172.51,1220.66 1173.87,1213.79 1168.73,1209.03 1175.69,1208.20" fill="#FF3B3B" stroke="#FF3B3B" stroke-width="2.00" stroke-linejoin="round"/><polygon points="1195.10,1224.57 1198.04,1230.93 1204.99,1231.76 1199.86,1236.52 1201.21,1243.38 1195.10,1239.97 1188.99,1243.38 1190.35,1236.52 1185.21,1231.76 1192.16,1230.93" fill="#FF3B3B" stroke="#FF3B3B" stroke-width="2.00" stroke-linejoin="round"/><polygon points="1211.80,1247.30 1214.74,1253.65 1221.69,1254.49 1216.56,1259.25 1217.91,1266.11 1211.80,1262.70 1205.69,1266.11 1207.04,1259.25 1201.91,1254.49 1208.86,1253.65" fill="#FF3B3B" stroke="#FF3B3B" stroke-width="2.00" stroke-linejoin="round"/>
</g>
<g font-family="'Liberation Sans', Arial, Helvetica, sans-serif" font-size="57.5" fill="#000">
<text x="216.5" y="1226.90" text-anchor="end">300</text>
<text x="216.5" y="999.62" text-anchor="end">320</text>
<text x="216.5" y="772.34" text-anchor="end">340</text>
<text x="216.5" y="545.06" text-anchor="end">360</text>
<text x="216.5" y="317.78" text-anchor="end">380</text>
<text x="216.5" y="90.50" text-anchor="end">400</text>
<text x="243.90" y="1393.6" text-anchor="middle">1</text>
<text x="396.81" y="1393.6" text-anchor="middle">2</text>
<text x="549.73" y="1393.6" text-anchor="middle">3</text>
<text x="702.64" y="1393.6" text-anchor="middle">4</text>
<text x="855.55" y="1393.6" text-anchor="middle">5</text>
<text x="1008.47" y="1393.6" text-anchor="middle">6</text>
<text x="1161.38" y="1393.6" text-anchor="middle">7</text>
<text x="1314.30" y="1393.6" text-anchor="middle">8</text>
<text x="1467.21" y="1393.6" text-anchor="middle">9</text>
<text x="1620.12" y="1393.6" text-anchor="middle">10</text>
<text x="1773.04" y="1393.6" text-anchor="middle">11</text>
<text x="1925.95" y="1393.6" text-anchor="middle">12</text>
</g>
<g font-family="'Liberation Sans', Arial, Helvetica, sans-serif" font-size="72" fill="#000">
<text x="1084.8" y="1486.3" text-anchor="middle" font-size="70.8">lnt (min)</text>
<text transform="translate(83.3 697.8) rotate(-90)" text-anchor="middle">T (K)</text>
</g>
<g font-family="'Liberation Sans', Arial, Helvetica, sans-serif" font-size="64.5" fill="#000">
<line x1="1974.60" y1="276.80" x2="2122.00" y2="276.80" stroke="#404040" stroke-width="5.60" stroke-linecap="butt"/>
<rect x="2038.18" y="268.14" width="20.83" height="19.71" fill="#404040"/>
<text x="2137.5" y="298.70">vitrification</text>
<line x1="1974.60" y1="365.30" x2="2122.00" y2="365.30" stroke="#006400" stroke-width="5.60" stroke-linecap="butt"/>
<circle cx="2048.30" cy="365.30" r="6.65" fill="#fff" stroke="#006400" stroke-width="4.24"/>
<text transform="translate(2137.2 387.20) scale(1.2 1)" font-family="'Liberation Serif', 'DejaVu Serif', serif" font-size="66">α</text>
<text x="2193.80" y="387.20" word-spacing="2.5">= 0.1</text>
<line x1="1974.60" y1="453.90" x2="2122.00" y2="453.90" stroke="#4DA6FF" stroke-width="5.60" stroke-linecap="butt"/>
<polygon points="2048.30,444.20 2056.70,458.75 2039.90,458.75" fill="#fff" stroke="#4DA6FF" stroke-width="4.30" stroke-linejoin="miter"/>
<text transform="translate(2137.2 475.80) scale(1.2 1)" font-family="'Liberation Serif', 'DejaVu Serif', serif" font-size="66">α</text>
<text x="2193.80" y="475.80" word-spacing="2.5">= 0.2</text>
<line x1="1974.60" y1="542.60" x2="2122.00" y2="542.60" stroke="#92C046" stroke-width="5.60" stroke-linecap="butt"/>
<polygon points="2048.30,552.30 2039.90,537.75 2056.70,537.75" fill="#fff" stroke="#92C046" stroke-width="4.30" stroke-linejoin="miter"/>
<text transform="translate(2137.2 564.50) scale(1.2 1)" font-family="'Liberation Serif', 'DejaVu Serif', serif" font-size="66">α</text>
<text x="2191.70" y="564.50" word-spacing="1.4">= 0.3</text>
<line x1="1974.60" y1="631.00" x2="2122.00" y2="631.00" stroke="#FFDC5A" stroke-width="5.60" stroke-linecap="butt"/>
<polygon points="2057.40,631.00 2048.30,640.10 2039.20,631.00 2048.30,621.90" fill="#fff" stroke="#FFDC5A" stroke-width="4.30" stroke-linejoin="miter"/>
<text transform="translate(2137.2 652.90) scale(1.2 1)" font-family="'Liberation Serif', 'DejaVu Serif', serif" font-size="66">α</text>
<text x="2193.80" y="652.90" word-spacing="2.5">= 0.5</text>
<line x1="1974.60" y1="719.70" x2="2122.00" y2="719.70" stroke="#FF9210" stroke-width="5.60" stroke-linecap="butt"/>
<polygon points="2038.60,719.70 2053.15,711.30 2053.15,728.10" fill="#fff" stroke="#FF9210" stroke-width="4.30" stroke-linejoin="miter"/>
<text transform="translate(2137.2 741.60) scale(1.2 1)" font-family="'Liberation Serif', 'DejaVu Serif', serif" font-size="66">α</text>
<text x="2193.80" y="741.60" word-spacing="2.5">= 0.7</text>
<line x1="1974.60" y1="808.30" x2="2122.00" y2="808.30" stroke="#BA5A00" stroke-width="5.60" stroke-linecap="butt"/>
<polygon points="2058.00,808.30 2043.45,816.70 2043.45,799.90" fill="#fff" stroke="#BA5A00" stroke-width="4.30" stroke-linejoin="miter"/>
<text transform="translate(2137.2 830.20) scale(1.2 1)" font-family="'Liberation Serif', 'DejaVu Serif', serif" font-size="66">α</text>
<text x="2193.80" y="830.20" word-spacing="2.5">= 0.9</text>
<line x1="1974.60" y1="897.00" x2="2122.00" y2="897.00" stroke="#8000FF" stroke-width="5.60" stroke-linecap="butt"/>
<polygon points="2048.30,888.35 2056.53,894.33 2053.38,904.00 2043.22,904.00 2040.07,894.33" fill="#fff" stroke="#8000FF" stroke-width="4.30" stroke-linejoin="miter"/>
<text transform="translate(2137.2 918.90) scale(1.2 1)" font-family="'Liberation Serif', 'DejaVu Serif', serif" font-size="66">α</text>
<text x="2190.60" y="918.90" word-spacing="5.7">= 1.0</text>
<line x1="1974.60" y1="976.10" x2="2122.00" y2="976.10" stroke="#FF3B3B" stroke-width="5.60" stroke-linecap="butt"/>
<polygon points="2048.30,965.70 2051.24,972.05 2058.19,972.89 2053.06,977.65 2054.41,984.51 2048.30,981.10 2042.19,984.51 2043.54,977.65 2038.41,972.89 2045.36,972.05" fill="#FF3B3B" stroke="#FF3B3B" stroke-width="2.00" stroke-linejoin="round"/>
<text x="2137.5" y="998.00">gelation</text>
</g>
</svg>
</body>
</html>
